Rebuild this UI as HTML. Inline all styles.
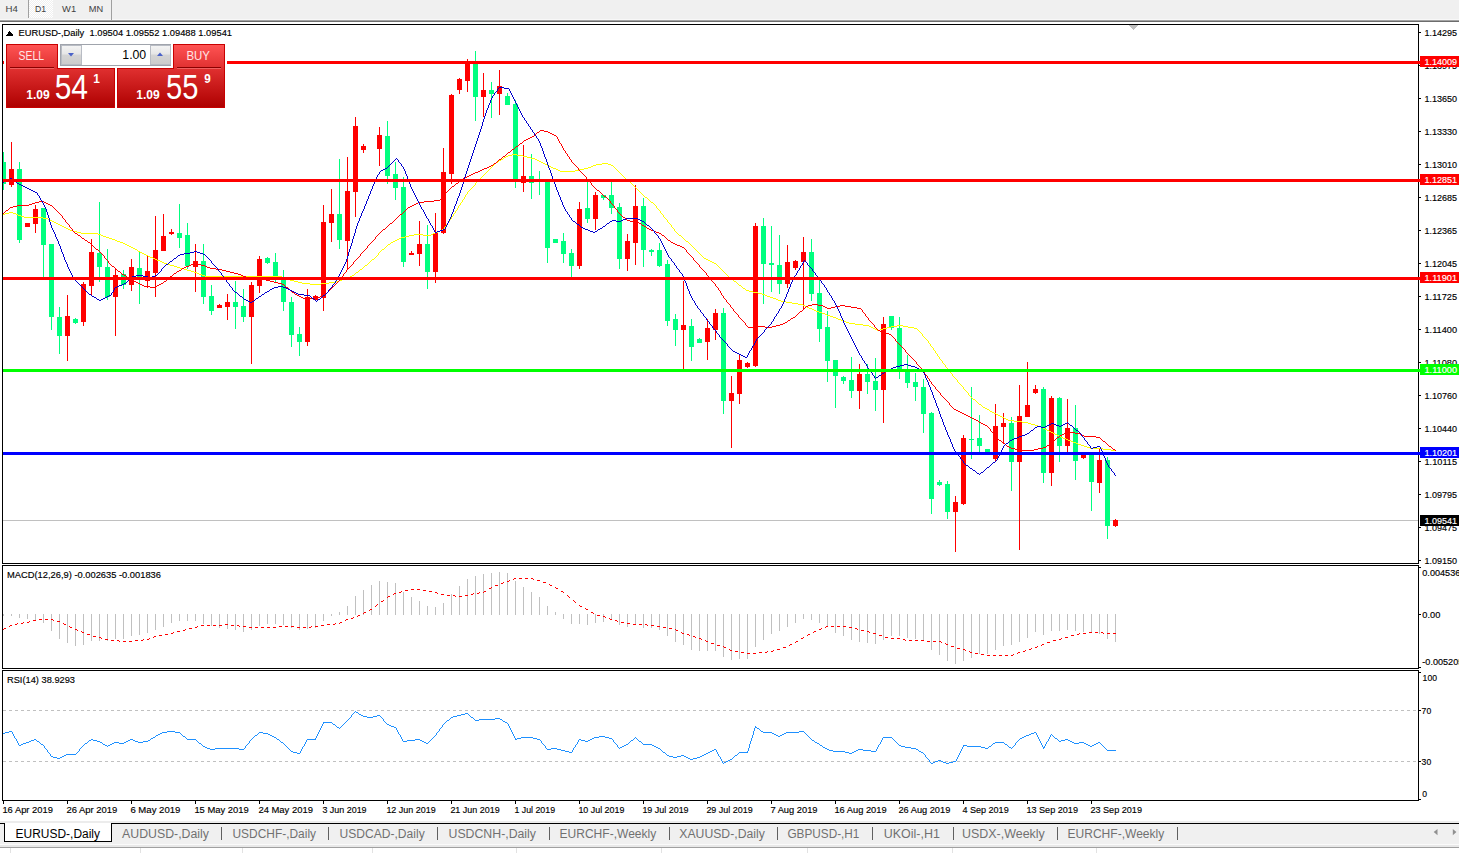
<!DOCTYPE html>
<html><head><meta charset="utf-8"><title>EURUSD-,Daily</title>
<style>
html,body{margin:0;padding:0;}
body{width:1459px;height:853px;overflow:hidden;background:#fff;position:relative;font-family:"Liberation Sans", sans-serif;}
.abs{position:absolute;}
#toolbar{left:0;top:0;width:1459px;height:19px;background:#f0f0f0;border-bottom:1px solid #f8f8f8;}
#tbl1{left:0;top:20px;width:1459px;height:1px;background:#a4a4a4;}
#tbl2{left:0;top:21px;width:1459px;height:1px;background:#6c6c6c;}
.tf{position:absolute;top:4px;font-size:10px;color:#404040;line-height:10px;}
#d1{left:29px;top:0;width:24px;height:18px;background:#f8f8f8;}
.vsep{position:absolute;width:1px;background:#a0a0a0;}
#tabbar{left:0;top:824px;width:1459px;height:20px;background:#f0f0f0;}
#tabtop{left:0;top:823px;width:1459px;height:1px;background:#000;}
#tabtop0{left:0;top:821px;width:1459px;height:2px;background:#ececec;}
#tabact{left:4px;top:823px;width:106px;height:18px;background:#fff;border:1px solid #000;border-top:none;}
#tb0{left:0;top:844px;width:1459px;height:1px;background:#fafafa;}
#tb1{left:0;top:845px;width:1459px;height:2px;background:#e8e8e8;}
#tb2{left:0;top:847px;width:1459px;height:1px;background:#a0a0a0;}
/* trade panel */
.btn{position:absolute;color:#fff;}
</style></head><body>
<div id="toolbar" class="abs"></div><div id="tbl1" class="abs"></div><div id="tbl2" class="abs"></div>
<div id="d1" class="abs"></div>
<div class="vsep" style="left:28px;top:0;height:18px"></div>
<div class="vsep" style="left:111px;top:0;height:20px"></div>
<svg width="1459" height="853" viewBox="0 0 1459 853" style="position:absolute;left:0;top:0" shape-rendering="crispEdges" font-family='"Liberation Sans", sans-serif'><rect x="2" y="24" width="1417" height="1" fill="#000"/>
<rect x="2" y="24" width="1" height="777" fill="#000"/>
<rect x="1418" y="24" width="1" height="540" fill="#000"/>
<rect x="1418" y="565" width="1" height="104" fill="#000"/>
<rect x="1418" y="670" width="1" height="131" fill="#000"/>
<rect x="2" y="563" width="1417" height="1" fill="#000"/>
<rect x="2" y="564" width="1" height="1" fill="#fff"/>
<rect x="2" y="565" width="1417" height="1" fill="#000"/>
<rect x="2" y="668" width="1417" height="1" fill="#000"/>
<rect x="2" y="669" width="1" height="1" fill="#fff"/>
<rect x="2" y="670" width="1417" height="1" fill="#000"/>
<rect x="2" y="800" width="1417" height="1" fill="#000"/>
<rect x="3" y="520" width="1415" height="1" fill="#C0C0C0"/>
<rect x="3" y="152" width="1" height="38" fill="#00FF7F"/>
<rect x="11" y="142" width="1" height="45" fill="#FF0000"/>
<rect x="19" y="162" width="1" height="81" fill="#00FF7F"/>
<rect x="27" y="223" width="1" height="4" fill="#FF0000"/>
<rect x="35" y="205" width="1" height="28" fill="#FF0000"/>
<rect x="43" y="208" width="1" height="71" fill="#00FF7F"/>
<rect x="51" y="244" width="1" height="86" fill="#00FF7F"/>
<rect x="59" y="307" width="1" height="47" fill="#00FF7F"/>
<rect x="67" y="295" width="1" height="66" fill="#FF0000"/>
<rect x="75" y="318" width="1" height="6" fill="#00FF7F"/>
<rect x="83" y="282" width="1" height="44" fill="#FF0000"/>
<rect x="91" y="239" width="1" height="56" fill="#FF0000"/>
<rect x="99" y="202" width="1" height="80" fill="#00FF7F"/>
<rect x="107" y="249" width="1" height="51" fill="#00FF7F"/>
<rect x="115" y="269" width="1" height="67" fill="#FF0000"/>
<rect x="123" y="270" width="1" height="19" fill="#00FF7F"/>
<rect x="131" y="259" width="1" height="32" fill="#FF0000"/>
<rect x="139" y="251" width="1" height="53" fill="#00FF7F"/>
<rect x="147" y="256" width="1" height="32" fill="#FF0000"/>
<rect x="155" y="216" width="1" height="81" fill="#FF0000"/>
<rect x="163" y="214" width="1" height="37" fill="#FF0000"/>
<rect x="171" y="229" width="1" height="6" fill="#FF0000"/>
<rect x="179" y="204" width="1" height="44" fill="#00FF7F"/>
<rect x="187" y="223" width="1" height="46" fill="#00FF7F"/>
<rect x="195" y="244" width="1" height="48" fill="#FF0000"/>
<rect x="203" y="244" width="1" height="60" fill="#00FF7F"/>
<rect x="211" y="285" width="1" height="30" fill="#00FF7F"/>
<rect x="219" y="304" width="1" height="4" fill="#FF0000"/>
<rect x="227" y="294" width="1" height="26" fill="#FF0000"/>
<rect x="235" y="281" width="1" height="48" fill="#00FF7F"/>
<rect x="243" y="289" width="1" height="33" fill="#00FF7F"/>
<rect x="251" y="282" width="1" height="82" fill="#FF0000"/>
<rect x="259" y="256" width="1" height="37" fill="#FF0000"/>
<rect x="267" y="257" width="1" height="7" fill="#00FF7F"/>
<rect x="275" y="253" width="1" height="30" fill="#00FF7F"/>
<rect x="283" y="270" width="1" height="41" fill="#00FF7F"/>
<rect x="291" y="297" width="1" height="50" fill="#00FF7F"/>
<rect x="299" y="327" width="1" height="29" fill="#00FF7F"/>
<rect x="307" y="289" width="1" height="57" fill="#FF0000"/>
<rect x="315" y="295" width="1" height="6" fill="#FF0000"/>
<rect x="323" y="205" width="1" height="106" fill="#FF0000"/>
<rect x="331" y="189" width="1" height="53" fill="#FF0000"/>
<rect x="339" y="159" width="1" height="90" fill="#00FF7F"/>
<rect x="347" y="157" width="1" height="112" fill="#FF0000"/>
<rect x="355" y="117" width="1" height="100" fill="#FF0000"/>
<rect x="363" y="144" width="1" height="9" fill="#FF0000"/>
<rect x="379" y="127" width="1" height="39" fill="#FF0000"/>
<rect x="387" y="121" width="1" height="63" fill="#00FF7F"/>
<rect x="395" y="162" width="1" height="38" fill="#00FF7F"/>
<rect x="403" y="177" width="1" height="90" fill="#00FF7F"/>
<rect x="411" y="251" width="1" height="4" fill="#FF0000"/>
<rect x="419" y="221" width="1" height="45" fill="#FF0000"/>
<rect x="427" y="225" width="1" height="64" fill="#00FF7F"/>
<rect x="435" y="213" width="1" height="70" fill="#FF0000"/>
<rect x="443" y="148" width="1" height="86" fill="#FF0000"/>
<rect x="451" y="94" width="1" height="90" fill="#FF0000"/>
<rect x="459" y="78" width="1" height="16" fill="#FF0000"/>
<rect x="467" y="59" width="1" height="33" fill="#FF0000"/>
<rect x="475" y="51" width="1" height="70" fill="#00FF7F"/>
<rect x="483" y="73" width="1" height="44" fill="#FF0000"/>
<rect x="491" y="82" width="1" height="36" fill="#00FF7F"/>
<rect x="499" y="70" width="1" height="45" fill="#FF0000"/>
<rect x="507" y="93" width="1" height="12" fill="#00FF7F"/>
<rect x="515" y="100" width="1" height="88" fill="#00FF7F"/>
<rect x="523" y="145" width="1" height="47" fill="#FF0000"/>
<rect x="531" y="154" width="1" height="45" fill="#00FF7F"/>
<rect x="539" y="171" width="1" height="24" fill="#00FF7F"/>
<rect x="547" y="182" width="1" height="81" fill="#00FF7F"/>
<rect x="555" y="239" width="1" height="4" fill="#00FF7F"/>
<rect x="563" y="233" width="1" height="30" fill="#00FF7F"/>
<rect x="571" y="249" width="1" height="28" fill="#00FF7F"/>
<rect x="579" y="202" width="1" height="67" fill="#FF0000"/>
<rect x="587" y="182" width="1" height="41" fill="#00FF7F"/>
<rect x="595" y="192" width="1" height="38" fill="#FF0000"/>
<rect x="603" y="195" width="1" height="5" fill="#00FF7F"/>
<rect x="611" y="182" width="1" height="32" fill="#00FF7F"/>
<rect x="619" y="203" width="1" height="66" fill="#00FF7F"/>
<rect x="627" y="234" width="1" height="37" fill="#FF0000"/>
<rect x="635" y="185" width="1" height="80" fill="#FF0000"/>
<rect x="643" y="198" width="1" height="69" fill="#00FF7F"/>
<rect x="651" y="249" width="1" height="7" fill="#00FF7F"/>
<rect x="659" y="243" width="1" height="24" fill="#00FF7F"/>
<rect x="667" y="260" width="1" height="66" fill="#00FF7F"/>
<rect x="675" y="314" width="1" height="32" fill="#00FF7F"/>
<rect x="683" y="281" width="1" height="89" fill="#FF0000"/>
<rect x="691" y="319" width="1" height="42" fill="#00FF7F"/>
<rect x="699" y="338" width="1" height="5" fill="#00FF7F"/>
<rect x="707" y="319" width="1" height="41" fill="#FF0000"/>
<rect x="715" y="309" width="1" height="31" fill="#FF0000"/>
<rect x="723" y="308" width="1" height="106" fill="#00FF7F"/>
<rect x="731" y="376" width="1" height="72" fill="#FF0000"/>
<rect x="739" y="355" width="1" height="49" fill="#FF0000"/>
<rect x="747" y="362" width="1" height="6" fill="#FF0000"/>
<rect x="755" y="223" width="1" height="144" fill="#FF0000"/>
<rect x="763" y="218" width="1" height="86" fill="#00FF7F"/>
<rect x="771" y="226" width="1" height="66" fill="#00FF7F"/>
<rect x="779" y="235" width="1" height="59" fill="#00FF7F"/>
<rect x="787" y="245" width="1" height="43" fill="#FF0000"/>
<rect x="795" y="260" width="1" height="10" fill="#FF0000"/>
<rect x="803" y="237" width="1" height="72" fill="#FF0000"/>
<rect x="811" y="239" width="1" height="62" fill="#00FF7F"/>
<rect x="819" y="280" width="1" height="62" fill="#00FF7F"/>
<rect x="827" y="311" width="1" height="71" fill="#00FF7F"/>
<rect x="835" y="360" width="1" height="48" fill="#00FF7F"/>
<rect x="843" y="376" width="1" height="8" fill="#00FF7F"/>
<rect x="851" y="357" width="1" height="41" fill="#00FF7F"/>
<rect x="859" y="364" width="1" height="45" fill="#FF0000"/>
<rect x="867" y="364" width="1" height="30" fill="#00FF7F"/>
<rect x="875" y="358" width="1" height="53" fill="#00FF7F"/>
<rect x="883" y="317" width="1" height="106" fill="#FF0000"/>
<rect x="891" y="316" width="1" height="14" fill="#00FF7F"/>
<rect x="899" y="317" width="1" height="62" fill="#00FF7F"/>
<rect x="907" y="355" width="1" height="33" fill="#00FF7F"/>
<rect x="915" y="373" width="1" height="28" fill="#00FF7F"/>
<rect x="923" y="379" width="1" height="54" fill="#00FF7F"/>
<rect x="931" y="412" width="1" height="102" fill="#00FF7F"/>
<rect x="939" y="480" width="1" height="6" fill="#00FF7F"/>
<rect x="947" y="481" width="1" height="38" fill="#00FF7F"/>
<rect x="955" y="496" width="1" height="56" fill="#FF0000"/>
<rect x="963" y="435" width="1" height="70" fill="#FF0000"/>
<rect x="971" y="387" width="1" height="72" fill="#00FF7F"/>
<rect x="979" y="415" width="1" height="38" fill="#00FF7F"/>
<rect x="987" y="449" width="1" height="4" fill="#00FF7F"/>
<rect x="995" y="404" width="1" height="57" fill="#FF0000"/>
<rect x="1003" y="413" width="1" height="30" fill="#FF0000"/>
<rect x="1011" y="417" width="1" height="74" fill="#00FF7F"/>
<rect x="1019" y="385" width="1" height="165" fill="#FF0000"/>
<rect x="1027" y="362" width="1" height="55" fill="#FF0000"/>
<rect x="1035" y="385" width="1" height="9" fill="#FF0000"/>
<rect x="1043" y="387" width="1" height="96" fill="#00FF7F"/>
<rect x="1051" y="396" width="1" height="90" fill="#FF0000"/>
<rect x="1059" y="397" width="1" height="65" fill="#00FF7F"/>
<rect x="1067" y="399" width="1" height="53" fill="#FF0000"/>
<rect x="1075" y="405" width="1" height="75" fill="#00FF7F"/>
<rect x="1083" y="455" width="1" height="4" fill="#FF0000"/>
<rect x="1091" y="455" width="1" height="56" fill="#00FF7F"/>
<rect x="1099" y="448" width="1" height="45" fill="#FF0000"/>
<rect x="1107" y="457" width="1" height="82" fill="#00FF7F"/>
<rect x="1115" y="519" width="1" height="8" fill="#FF0000"/>
<rect x="3" y="162" width="3" height="22" fill="#00FF7F"/>
<rect x="9" y="169" width="5" height="16" fill="#FF0000"/>
<rect x="17" y="169" width="5" height="71" fill="#00FF7F"/>
<rect x="25" y="223" width="5" height="4" fill="#FF0000"/>
<rect x="33" y="209" width="5" height="15" fill="#FF0000"/>
<rect x="41" y="208" width="5" height="37" fill="#00FF7F"/>
<rect x="49" y="244" width="5" height="73" fill="#00FF7F"/>
<rect x="57" y="317" width="5" height="19" fill="#00FF7F"/>
<rect x="65" y="316" width="5" height="20" fill="#FF0000"/>
<rect x="73" y="319" width="5" height="4" fill="#00FF7F"/>
<rect x="81" y="284" width="5" height="38" fill="#FF0000"/>
<rect x="89" y="252" width="5" height="34" fill="#FF0000"/>
<rect x="97" y="253" width="5" height="14" fill="#00FF7F"/>
<rect x="105" y="267" width="5" height="30" fill="#00FF7F"/>
<rect x="113" y="275" width="5" height="22" fill="#FF0000"/>
<rect x="121" y="274" width="5" height="11" fill="#00FF7F"/>
<rect x="129" y="267" width="5" height="18" fill="#FF0000"/>
<rect x="137" y="268" width="5" height="12" fill="#00FF7F"/>
<rect x="145" y="271" width="5" height="10" fill="#FF0000"/>
<rect x="153" y="250" width="5" height="23" fill="#FF0000"/>
<rect x="161" y="236" width="5" height="15" fill="#FF0000"/>
<rect x="169" y="232" width="5" height="2" fill="#FF0000"/>
<rect x="177" y="233" width="5" height="5" fill="#00FF7F"/>
<rect x="185" y="235" width="5" height="31" fill="#00FF7F"/>
<rect x="193" y="261" width="5" height="6" fill="#FF0000"/>
<rect x="201" y="261" width="5" height="36" fill="#00FF7F"/>
<rect x="209" y="296" width="5" height="15" fill="#00FF7F"/>
<rect x="217" y="305" width="5" height="3" fill="#FF0000"/>
<rect x="225" y="302" width="5" height="5" fill="#FF0000"/>
<rect x="233" y="302" width="5" height="5" fill="#00FF7F"/>
<rect x="241" y="306" width="5" height="11" fill="#00FF7F"/>
<rect x="249" y="285" width="5" height="32" fill="#FF0000"/>
<rect x="257" y="259" width="5" height="27" fill="#FF0000"/>
<rect x="265" y="258" width="5" height="5" fill="#00FF7F"/>
<rect x="273" y="262" width="5" height="18" fill="#00FF7F"/>
<rect x="281" y="277" width="5" height="25" fill="#00FF7F"/>
<rect x="289" y="302" width="5" height="33" fill="#00FF7F"/>
<rect x="297" y="334" width="5" height="8" fill="#00FF7F"/>
<rect x="305" y="297" width="5" height="45" fill="#FF0000"/>
<rect x="313" y="296" width="5" height="4" fill="#FF0000"/>
<rect x="321" y="222" width="5" height="76" fill="#FF0000"/>
<rect x="329" y="214" width="5" height="9" fill="#FF0000"/>
<rect x="337" y="214" width="5" height="26" fill="#00FF7F"/>
<rect x="345" y="191" width="5" height="50" fill="#FF0000"/>
<rect x="353" y="126" width="5" height="66" fill="#FF0000"/>
<rect x="361" y="146" width="5" height="4" fill="#FF0000"/>
<rect x="377" y="135" width="5" height="14" fill="#FF0000"/>
<rect x="385" y="136" width="5" height="40" fill="#00FF7F"/>
<rect x="393" y="174" width="5" height="14" fill="#00FF7F"/>
<rect x="401" y="187" width="5" height="75" fill="#00FF7F"/>
<rect x="409" y="253" width="5" height="2" fill="#FF0000"/>
<rect x="417" y="244" width="5" height="10" fill="#FF0000"/>
<rect x="425" y="244" width="5" height="28" fill="#00FF7F"/>
<rect x="433" y="233" width="5" height="39" fill="#FF0000"/>
<rect x="441" y="172" width="5" height="61" fill="#FF0000"/>
<rect x="449" y="95" width="5" height="79" fill="#FF0000"/>
<rect x="457" y="79" width="5" height="11" fill="#FF0000"/>
<rect x="465" y="62" width="5" height="19" fill="#FF0000"/>
<rect x="473" y="64" width="5" height="33" fill="#00FF7F"/>
<rect x="481" y="90" width="5" height="7" fill="#FF0000"/>
<rect x="489" y="90" width="5" height="4" fill="#00FF7F"/>
<rect x="497" y="86" width="5" height="8" fill="#FF0000"/>
<rect x="505" y="96" width="5" height="9" fill="#00FF7F"/>
<rect x="513" y="104" width="5" height="77" fill="#00FF7F"/>
<rect x="521" y="176" width="5" height="7" fill="#FF0000"/>
<rect x="529" y="176" width="5" height="7" fill="#00FF7F"/>
<rect x="537" y="180" width="5" height="2" fill="#00FF7F"/>
<rect x="545" y="182" width="5" height="66" fill="#00FF7F"/>
<rect x="553" y="239" width="5" height="4" fill="#00FF7F"/>
<rect x="561" y="241" width="5" height="13" fill="#00FF7F"/>
<rect x="569" y="253" width="5" height="13" fill="#00FF7F"/>
<rect x="577" y="209" width="5" height="57" fill="#FF0000"/>
<rect x="585" y="208" width="5" height="11" fill="#00FF7F"/>
<rect x="593" y="195" width="5" height="24" fill="#FF0000"/>
<rect x="601" y="195" width="5" height="3" fill="#00FF7F"/>
<rect x="609" y="195" width="5" height="13" fill="#00FF7F"/>
<rect x="617" y="207" width="5" height="52" fill="#00FF7F"/>
<rect x="625" y="241" width="5" height="18" fill="#FF0000"/>
<rect x="633" y="206" width="5" height="37" fill="#FF0000"/>
<rect x="641" y="206" width="5" height="44" fill="#00FF7F"/>
<rect x="649" y="250" width="5" height="2" fill="#00FF7F"/>
<rect x="657" y="250" width="5" height="16" fill="#00FF7F"/>
<rect x="665" y="264" width="5" height="57" fill="#00FF7F"/>
<rect x="673" y="319" width="5" height="11" fill="#00FF7F"/>
<rect x="681" y="325" width="5" height="5" fill="#FF0000"/>
<rect x="689" y="326" width="5" height="21" fill="#00FF7F"/>
<rect x="697" y="339" width="5" height="4" fill="#00FF7F"/>
<rect x="705" y="328" width="5" height="14" fill="#FF0000"/>
<rect x="713" y="313" width="5" height="17" fill="#FF0000"/>
<rect x="721" y="313" width="5" height="88" fill="#00FF7F"/>
<rect x="729" y="393" width="5" height="8" fill="#FF0000"/>
<rect x="737" y="360" width="5" height="34" fill="#FF0000"/>
<rect x="745" y="363" width="5" height="4" fill="#FF0000"/>
<rect x="753" y="226" width="5" height="140" fill="#FF0000"/>
<rect x="761" y="226" width="5" height="38" fill="#00FF7F"/>
<rect x="769" y="263" width="5" height="2" fill="#00FF7F"/>
<rect x="777" y="265" width="5" height="19" fill="#00FF7F"/>
<rect x="785" y="262" width="5" height="22" fill="#FF0000"/>
<rect x="793" y="261" width="5" height="7" fill="#FF0000"/>
<rect x="801" y="252" width="5" height="10" fill="#FF0000"/>
<rect x="809" y="252" width="5" height="42" fill="#00FF7F"/>
<rect x="817" y="293" width="5" height="36" fill="#00FF7F"/>
<rect x="825" y="327" width="5" height="34" fill="#00FF7F"/>
<rect x="833" y="360" width="5" height="16" fill="#00FF7F"/>
<rect x="841" y="377" width="5" height="4" fill="#00FF7F"/>
<rect x="849" y="380" width="5" height="11" fill="#00FF7F"/>
<rect x="857" y="374" width="5" height="17" fill="#FF0000"/>
<rect x="865" y="374" width="5" height="8" fill="#00FF7F"/>
<rect x="873" y="381" width="5" height="9" fill="#00FF7F"/>
<rect x="881" y="324" width="5" height="66" fill="#FF0000"/>
<rect x="889" y="316" width="5" height="12" fill="#00FF7F"/>
<rect x="897" y="328" width="5" height="43" fill="#00FF7F"/>
<rect x="905" y="371" width="5" height="12" fill="#00FF7F"/>
<rect x="913" y="382" width="5" height="5" fill="#00FF7F"/>
<rect x="921" y="387" width="5" height="27" fill="#00FF7F"/>
<rect x="929" y="413" width="5" height="86" fill="#00FF7F"/>
<rect x="937" y="482" width="5" height="3" fill="#00FF7F"/>
<rect x="945" y="484" width="5" height="28" fill="#00FF7F"/>
<rect x="953" y="502" width="5" height="10" fill="#FF0000"/>
<rect x="961" y="438" width="5" height="66" fill="#FF0000"/>
<rect x="969" y="439" width="5" height="1" fill="#00FF7F"/>
<rect x="977" y="438" width="5" height="8" fill="#00FF7F"/>
<rect x="985" y="449" width="5" height="4" fill="#00FF7F"/>
<rect x="993" y="426" width="5" height="33" fill="#FF0000"/>
<rect x="1001" y="423" width="5" height="4" fill="#FF0000"/>
<rect x="1009" y="423" width="5" height="39" fill="#00FF7F"/>
<rect x="1017" y="416" width="5" height="46" fill="#FF0000"/>
<rect x="1025" y="405" width="5" height="12" fill="#FF0000"/>
<rect x="1033" y="389" width="5" height="4" fill="#FF0000"/>
<rect x="1041" y="389" width="5" height="84" fill="#00FF7F"/>
<rect x="1049" y="398" width="5" height="75" fill="#FF0000"/>
<rect x="1057" y="398" width="5" height="48" fill="#00FF7F"/>
<rect x="1065" y="428" width="5" height="18" fill="#FF0000"/>
<rect x="1073" y="428" width="5" height="33" fill="#00FF7F"/>
<rect x="1081" y="455" width="5" height="3" fill="#FF0000"/>
<rect x="1089" y="455" width="5" height="27" fill="#00FF7F"/>
<rect x="1097" y="460" width="5" height="23" fill="#FF0000"/>
<rect x="1105" y="460" width="5" height="66" fill="#00FF7F"/>
<rect x="1113" y="520" width="5" height="6" fill="#FF0000"/>
<path d="M512 154h5v1h-5zM508 155h4v1h-4zM517 155h6v1h-6zM506 156h2v1h-2zM523 156h4v1h-4zM504 157h2v1h-2zM527 157h4v1h-4zM503 158h1v1h-1zM531 158h4v1h-4zM501 159h2v1h-2zM535 159h2v1h-2zM499 160h2v1h-2zM537 160h2v1h-2zM498 161h1v1h-1zM539 161h2v1h-2zM496 162h2v1h-2zM541 162h2v1h-2zM495 163h1v1h-1zM543 163h2v1h-2zM602 163h6v1h-6zM494 164h1v1h-1zM545 164h2v1h-2zM596 164h6v1h-6zM608 164h3v1h-3zM493 165h1v1h-1zM547 165h2v1h-2zM593 165h3v1h-3zM611 165h2v1h-2zM492 166h1v1h-1zM549 166h2v1h-2zM591 166h2v1h-2zM613 166h1v1h-1zM491 167h1v1h-1zM551 167h2v1h-2zM588 167h3v1h-3zM614 167h1v1h-1zM490 168h1v1h-1zM553 168h3v1h-3zM584 168h4v1h-4zM615 168h1v1h-1zM489 169h1v1h-1zM556 169h2v1h-2zM579 169h5v1h-5zM616 169h1v1h-1zM488 170h1v1h-1zM558 170h2v1h-2zM575 170h4v1h-4zM617 170h1v1h-1zM487 171h1v1h-1zM560 171h15v1h-15zM618 171h1v1h-1zM486 172h1v1h-1zM619 172h1v1h-1zM485 173h1v1h-1zM620 173h1v1h-1zM484 174h1v1h-1zM621 174h1v1h-1zM483 175h1v1h-1zM622 175h1v1h-1zM482 176h1v1h-1zM623 176h1v1h-1zM481 177h1v1h-1zM624 177h1v1h-1zM480 178h1v1h-1zM625 178h1v1h-1zM479 179h1v1h-1zM626 179h2v1h-2zM478 180h1v1h-1zM628 180h1v1h-1zM477 181h1v1h-1zM629 181h1v1h-1zM476 182h1v1h-1zM630 182h1v1h-1zM475 183h1v2h-1zM631 183h1v1h-1zM632 184h1v1h-1zM474 185h1v1h-1zM633 185h1v1h-1zM473 186h1v1h-1zM634 186h1v1h-1zM472 187h1v1h-1zM635 187h1v1h-1zM471 188h1v1h-1zM636 188h1v1h-1zM470 189h1v1h-1zM637 189h1v1h-1zM469 190h1v1h-1zM638 190h1v1h-1zM468 191h1v1h-1zM639 191h1v1h-1zM467 192h1v2h-1zM640 192h1v1h-1zM641 193h1v1h-1zM466 194h1v1h-1zM642 194h1v1h-1zM465 195h1v2h-1zM643 195h1v1h-1zM644 196h1v1h-1zM464 197h1v2h-1zM645 197h2v1h-2zM647 198h1v1h-1zM463 199h1v1h-1zM648 199h1v1h-1zM462 200h1v2h-1zM649 200h1v1h-1zM650 201h1v1h-1zM461 202h1v1h-1zM651 202h2v1h-2zM460 203h1v2h-1zM653 203h1v1h-1zM654 204h1v1h-1zM459 205h1v1h-1zM655 205h1v1h-1zM458 206h1v2h-1zM656 206h1v2h-1zM457 208h1v2h-1zM657 208h1v1h-1zM658 209h1v1h-1zM456 210h1v1h-1zM659 210h1v1h-1zM455 211h1v2h-1zM660 211h1v2h-1zM9 212h4v1h-4zM5 213h4v1h-4zM13 213h3v1h-3zM454 213h1v1h-1zM661 213h1v1h-1zM3 214h2v1h-2zM16 214h2v1h-2zM453 214h1v2h-1zM662 214h1v1h-1zM18 215h3v1h-3zM663 215h1v2h-1zM21 216h3v1h-3zM452 216h1v1h-1zM24 217h19v1h-19zM451 217h1v2h-1zM664 217h1v1h-1zM43 218h5v1h-5zM665 218h1v1h-1zM48 219h2v1h-2zM450 219h1v1h-1zM666 219h1v1h-1zM50 220h2v1h-2zM449 220h1v2h-1zM667 220h1v2h-1zM52 221h2v1h-2zM54 222h2v1h-2zM448 222h1v1h-1zM668 222h1v1h-1zM56 223h2v1h-2zM447 223h1v1h-1zM669 223h1v1h-1zM58 224h2v1h-2zM446 224h1v2h-1zM670 224h1v1h-1zM60 225h2v1h-2zM671 225h1v2h-1zM62 226h2v1h-2zM445 226h1v1h-1zM64 227h2v1h-2zM444 227h1v2h-1zM672 227h1v1h-1zM66 228h2v1h-2zM673 228h1v1h-1zM68 229h2v1h-2zM442 229h2v1h-2zM674 229h1v2h-1zM70 230h3v1h-3zM440 230h2v1h-2zM73 231h4v1h-4zM438 231h2v1h-2zM675 231h1v1h-1zM77 232h4v1h-4zM435 232h3v1h-3zM676 232h1v1h-1zM81 233h17v1h-17zM433 233h2v1h-2zM677 233h1v1h-1zM98 234h3v1h-3zM414 234h9v1h-9zM431 234h2v1h-2zM678 234h1v1h-1zM101 235h2v1h-2zM409 235h5v1h-5zM423 235h8v1h-8zM679 235h2v1h-2zM103 236h3v1h-3zM405 236h4v1h-4zM681 236h1v1h-1zM106 237h3v1h-3zM401 237h4v1h-4zM682 237h1v1h-1zM109 238h3v1h-3zM399 238h2v1h-2zM683 238h1v1h-1zM112 239h3v1h-3zM397 239h2v1h-2zM684 239h1v1h-1zM115 240h2v1h-2zM395 240h2v1h-2zM685 240h1v1h-1zM117 241h3v1h-3zM393 241h2v1h-2zM686 241h2v1h-2zM120 242h3v1h-3zM391 242h2v1h-2zM688 242h1v1h-1zM123 243h2v1h-2zM390 243h1v1h-1zM689 243h1v1h-1zM125 244h2v1h-2zM388 244h2v1h-2zM690 244h1v1h-1zM127 245h2v1h-2zM387 245h1v1h-1zM691 245h1v1h-1zM129 246h2v1h-2zM386 246h1v1h-1zM692 246h1v1h-1zM131 247h2v1h-2zM385 247h1v1h-1zM693 247h1v1h-1zM133 248h2v1h-2zM384 248h1v1h-1zM694 248h1v1h-1zM135 249h2v1h-2zM382 249h2v1h-2zM695 249h1v1h-1zM137 250h1v1h-1zM381 250h1v1h-1zM696 250h1v1h-1zM138 251h2v1h-2zM380 251h1v1h-1zM697 251h1v1h-1zM140 252h2v1h-2zM379 252h1v1h-1zM698 252h1v1h-1zM142 253h2v1h-2zM378 253h1v2h-1zM699 253h1v1h-1zM144 254h2v1h-2zM700 254h1v1h-1zM146 255h2v1h-2zM377 255h1v1h-1zM701 255h1v1h-1zM148 256h2v1h-2zM376 256h1v1h-1zM702 256h1v1h-1zM150 257h3v1h-3zM375 257h1v1h-1zM703 257h1v1h-1zM153 258h2v1h-2zM374 258h1v1h-1zM704 258h2v1h-2zM155 259h2v1h-2zM372 259h2v1h-2zM706 259h2v1h-2zM157 260h3v1h-3zM371 260h1v1h-1zM708 260h2v1h-2zM160 261h2v1h-2zM370 261h1v1h-1zM710 261h2v1h-2zM162 262h2v1h-2zM369 262h1v1h-1zM712 262h2v1h-2zM164 263h3v1h-3zM368 263h1v1h-1zM714 263h2v1h-2zM167 264h3v1h-3zM367 264h1v1h-1zM716 264h1v1h-1zM170 265h4v1h-4zM365 265h2v1h-2zM717 265h1v1h-1zM174 266h3v1h-3zM364 266h1v1h-1zM718 266h1v1h-1zM177 267h3v1h-3zM363 267h1v1h-1zM719 267h1v1h-1zM180 268h4v1h-4zM362 268h1v1h-1zM720 268h1v1h-1zM184 269h3v1h-3zM360 269h2v1h-2zM721 269h1v1h-1zM187 270h4v1h-4zM359 270h1v1h-1zM722 270h1v1h-1zM191 271h3v1h-3zM358 271h1v1h-1zM723 271h1v1h-1zM194 272h3v1h-3zM356 272h2v1h-2zM724 272h1v1h-1zM197 273h2v1h-2zM355 273h1v1h-1zM725 273h1v1h-1zM199 274h3v1h-3zM354 274h1v1h-1zM726 274h1v1h-1zM202 275h3v1h-3zM352 275h2v1h-2zM727 275h1v1h-1zM205 276h77v1h-77zM350 276h2v1h-2zM728 276h1v1h-1zM282 277h3v1h-3zM347 277h3v1h-3zM729 277h1v1h-1zM285 278h2v1h-2zM344 278h3v1h-3zM730 278h2v1h-2zM287 279h3v1h-3zM342 279h2v1h-2zM732 279h1v1h-1zM290 280h4v1h-4zM339 280h3v1h-3zM733 280h1v1h-1zM294 281h4v1h-4zM335 281h4v1h-4zM734 281h2v1h-2zM298 282h4v1h-4zM329 282h6v1h-6zM736 282h1v1h-1zM302 283h8v1h-8zM321 283h8v1h-8zM737 283h1v1h-1zM310 284h11v1h-11zM738 284h1v1h-1zM739 285h2v1h-2zM741 286h1v1h-1zM742 287h1v1h-1zM743 288h2v1h-2zM745 289h1v1h-1zM746 290h3v1h-3zM749 291h4v1h-4zM753 292h5v1h-5zM758 293h4v1h-4zM762 294h3v1h-3zM765 295h2v1h-2zM767 296h3v1h-3zM770 297h3v1h-3zM773 298h3v1h-3zM776 299h2v1h-2zM778 300h3v1h-3zM781 301h5v1h-5zM786 302h6v1h-6zM792 303h6v1h-6zM798 304h5v1h-5zM803 305h2v1h-2zM805 306h2v1h-2zM807 307h2v1h-2zM809 308h3v1h-3zM812 309h2v1h-2zM814 310h2v1h-2zM816 311h3v1h-3zM819 312h3v1h-3zM822 313h3v1h-3zM825 314h2v1h-2zM827 315h3v1h-3zM830 316h3v1h-3zM833 317h3v1h-3zM836 318h2v1h-2zM838 319h3v1h-3zM841 320h3v1h-3zM844 321h2v1h-2zM846 322h3v1h-3zM849 323h6v1h-6zM855 324h8v1h-8zM863 325h6v1h-6zM897 325h6v1h-6zM869 326h2v1h-2zM891 326h6v1h-6zM903 326h5v1h-5zM871 327h2v1h-2zM887 327h4v1h-4zM908 327h6v1h-6zM873 328h2v1h-2zM883 328h4v1h-4zM914 328h3v1h-3zM875 329h2v1h-2zM880 329h3v1h-3zM917 329h1v1h-1zM877 330h3v1h-3zM918 330h1v1h-1zM919 331h1v1h-1zM920 332h1v1h-1zM921 333h1v1h-1zM922 334h1v2h-1zM923 336h1v1h-1zM924 337h1v1h-1zM925 338h1v1h-1zM926 339h1v1h-1zM927 340h1v1h-1zM928 341h1v2h-1zM929 343h1v1h-1zM930 344h1v2h-1zM931 346h1v1h-1zM932 347h1v1h-1zM933 348h1v2h-1zM934 350h1v1h-1zM935 351h1v2h-1zM936 353h1v1h-1zM937 354h1v2h-1zM938 356h1v1h-1zM939 357h1v2h-1zM940 359h1v1h-1zM941 360h1v1h-1zM942 361h1v2h-1zM943 363h1v1h-1zM944 364h1v1h-1zM945 365h1v2h-1zM946 367h1v1h-1zM947 368h1v1h-1zM948 369h1v2h-1zM949 371h1v1h-1zM950 372h1v1h-1zM951 373h1v1h-1zM952 374h1v2h-1zM953 376h1v1h-1zM954 377h1v1h-1zM955 378h1v1h-1zM956 379h1v1h-1zM957 380h1v2h-1zM958 382h1v1h-1zM959 383h1v1h-1zM960 384h1v1h-1zM961 385h1v1h-1zM962 386h1v1h-1zM963 387h1v2h-1zM964 389h1v1h-1zM965 390h1v1h-1zM966 391h1v1h-1zM967 392h1v1h-1zM968 393h1v2h-1zM969 395h1v1h-1zM970 396h1v1h-1zM971 397h1v1h-1zM972 398h1v1h-1zM973 399h2v1h-2zM975 400h1v1h-1zM976 401h1v1h-1zM977 402h1v1h-1zM978 403h1v1h-1zM979 404h2v1h-2zM981 405h1v1h-1zM982 406h1v1h-1zM983 407h2v1h-2zM985 408h2v1h-2zM987 409h2v1h-2zM989 410h1v1h-1zM990 411h2v1h-2zM992 412h2v1h-2zM994 413h2v1h-2zM996 414h2v1h-2zM998 415h2v1h-2zM1000 416h2v1h-2zM1002 417h2v1h-2zM1004 418h2v1h-2zM1006 419h2v1h-2zM1008 420h6v1h-6zM1014 421h8v1h-8zM1022 422h6v1h-6zM1028 423h3v1h-3zM1031 424h4v1h-4zM1035 425h3v1h-3zM1038 426h3v1h-3zM1041 427h2v1h-2zM1043 428h2v1h-2zM1045 429h2v1h-2zM1047 430h2v1h-2zM1049 431h2v1h-2zM1051 432h2v1h-2zM1053 433h2v1h-2zM1055 434h2v1h-2zM1057 435h2v1h-2zM1059 436h2v1h-2zM1061 437h2v1h-2zM1063 438h3v1h-3zM1066 439h2v1h-2zM1068 440h3v1h-3zM1071 441h2v1h-2zM1073 442h3v1h-3zM1076 443h2v1h-2zM1078 444h3v1h-3zM1081 445h3v1h-3zM1084 446h3v1h-3zM1087 447h3v1h-3zM1090 448h13v1h-13zM1103 449h8v1h-8zM1111 450h5v1h-5z" fill="#FFFF00"/>
<path d="M540 130h4v1h-4zM539 131h1v1h-1zM544 131h4v1h-4zM537 132h2v1h-2zM548 132h2v1h-2zM536 133h1v1h-1zM550 133h2v1h-2zM535 134h1v1h-1zM552 134h2v1h-2zM534 135h1v1h-1zM554 135h2v1h-2zM532 136h2v1h-2zM556 136h1v1h-1zM530 137h2v1h-2zM557 137h1v2h-1zM528 138h2v1h-2zM526 139h2v1h-2zM558 139h1v2h-1zM524 140h2v1h-2zM523 141h1v1h-1zM559 141h1v2h-1zM522 142h1v1h-1zM520 143h2v1h-2zM560 143h1v1h-1zM519 144h1v1h-1zM561 144h1v2h-1zM518 145h1v1h-1zM516 146h2v1h-2zM562 146h1v2h-1zM515 147h1v1h-1zM514 148h1v1h-1zM563 148h1v2h-1zM512 149h2v1h-2zM511 150h1v1h-1zM564 150h1v1h-1zM510 151h1v1h-1zM565 151h1v2h-1zM508 152h2v1h-2zM507 153h1v1h-1zM566 153h1v1h-1zM506 154h1v1h-1zM567 154h1v2h-1zM505 155h1v1h-1zM503 156h2v1h-2zM568 156h1v1h-1zM502 157h1v1h-1zM569 157h1v2h-1zM501 158h1v1h-1zM499 159h2v1h-2zM570 159h1v1h-1zM498 160h1v1h-1zM571 160h1v2h-1zM497 161h1v1h-1zM496 162h1v1h-1zM572 162h1v1h-1zM494 163h2v1h-2zM573 163h1v1h-1zM493 164h1v1h-1zM574 164h1v1h-1zM491 165h2v1h-2zM575 165h1v1h-1zM489 166h2v1h-2zM576 166h1v1h-1zM487 167h2v1h-2zM577 167h1v1h-1zM484 168h3v1h-3zM578 168h1v2h-1zM482 169h2v1h-2zM480 170h2v1h-2zM579 170h1v1h-1zM478 171h2v1h-2zM580 171h1v1h-1zM475 172h3v1h-3zM581 172h1v1h-1zM473 173h2v1h-2zM582 173h1v1h-1zM471 174h2v1h-2zM583 174h1v1h-1zM469 175h2v1h-2zM584 175h1v1h-1zM467 176h2v1h-2zM585 176h1v1h-1zM465 177h2v1h-2zM586 177h1v2h-1zM463 178h2v1h-2zM462 179h1v1h-1zM587 179h1v1h-1zM460 180h2v1h-2zM588 180h1v1h-1zM459 181h1v1h-1zM589 181h1v1h-1zM458 182h1v1h-1zM590 182h1v1h-1zM456 183h2v1h-2zM591 183h1v2h-1zM455 184h1v1h-1zM454 185h1v1h-1zM592 185h1v1h-1zM452 186h2v1h-2zM593 186h1v1h-1zM451 187h1v1h-1zM594 187h1v1h-1zM450 188h1v1h-1zM595 188h1v1h-1zM449 189h1v1h-1zM596 189h1v1h-1zM448 190h1v1h-1zM597 190h2v1h-2zM447 191h1v1h-1zM599 191h1v1h-1zM446 192h1v1h-1zM600 192h1v1h-1zM445 193h1v2h-1zM601 193h1v1h-1zM602 194h1v1h-1zM444 195h1v1h-1zM603 195h1v1h-1zM443 196h1v1h-1zM604 196h2v1h-2zM442 197h1v1h-1zM606 197h1v1h-1zM441 198h1v1h-1zM607 198h1v1h-1zM440 199h1v1h-1zM608 199h1v1h-1zM434 200h6v1h-6zM609 200h1v1h-1zM39 201h5v1h-5zM424 201h10v1h-10zM610 201h1v2h-1zM35 202h4v1h-4zM44 202h2v1h-2zM418 202h6v1h-6zM32 203h3v1h-3zM46 203h2v1h-2zM416 203h2v1h-2zM611 203h1v1h-1zM29 204h3v1h-3zM48 204h2v1h-2zM414 204h2v1h-2zM612 204h1v1h-1zM17 205h12v1h-12zM50 205h2v1h-2zM412 205h2v1h-2zM613 205h1v1h-1zM13 206h4v1h-4zM52 206h1v1h-1zM410 206h2v1h-2zM614 206h1v2h-1zM10 207h3v1h-3zM53 207h1v1h-1zM408 207h2v1h-2zM9 208h1v1h-1zM54 208h1v1h-1zM407 208h1v1h-1zM615 208h1v1h-1zM8 209h1v1h-1zM55 209h1v1h-1zM406 209h1v1h-1zM616 209h1v1h-1zM6 210h2v1h-2zM56 210h1v1h-1zM405 210h1v1h-1zM617 210h1v2h-1zM5 211h1v1h-1zM57 211h1v1h-1zM404 211h1v1h-1zM4 212h1v1h-1zM58 212h1v1h-1zM403 212h1v1h-1zM618 212h1v1h-1zM3 213h1v1h-1zM59 213h1v1h-1zM402 213h1v1h-1zM619 213h1v1h-1zM60 214h1v1h-1zM400 214h2v1h-2zM620 214h1v1h-1zM61 215h1v1h-1zM399 215h1v1h-1zM621 215h1v1h-1zM62 216h1v2h-1zM398 216h1v1h-1zM622 216h1v1h-1zM397 217h1v1h-1zM623 217h2v1h-2zM63 218h1v1h-1zM396 218h1v1h-1zM625 218h1v1h-1zM64 219h1v1h-1zM395 219h1v1h-1zM626 219h1v1h-1zM65 220h1v2h-1zM394 220h1v1h-1zM627 220h3v1h-3zM393 221h1v1h-1zM630 221h6v1h-6zM66 222h1v1h-1zM392 222h1v1h-1zM636 222h3v1h-3zM67 223h1v1h-1zM390 223h2v1h-2zM639 223h2v1h-2zM68 224h1v1h-1zM389 224h1v1h-1zM641 224h1v1h-1zM69 225h1v2h-1zM388 225h1v1h-1zM642 225h2v1h-2zM387 226h1v1h-1zM644 226h2v1h-2zM70 227h1v1h-1zM386 227h1v1h-1zM646 227h1v1h-1zM71 228h1v1h-1zM385 228h1v1h-1zM647 228h2v1h-2zM72 229h1v2h-1zM383 229h2v1h-2zM649 229h2v1h-2zM382 230h1v1h-1zM651 230h3v1h-3zM73 231h1v1h-1zM381 231h1v1h-1zM654 231h2v1h-2zM74 232h1v1h-1zM380 232h1v1h-1zM656 232h3v1h-3zM75 233h2v1h-2zM379 233h1v1h-1zM659 233h2v1h-2zM77 234h1v1h-1zM378 234h1v1h-1zM661 234h1v1h-1zM78 235h2v1h-2zM377 235h1v1h-1zM662 235h2v1h-2zM80 236h1v1h-1zM376 236h1v1h-1zM664 236h1v1h-1zM81 237h1v1h-1zM375 237h1v2h-1zM665 237h1v1h-1zM82 238h2v1h-2zM666 238h1v1h-1zM84 239h1v1h-1zM374 239h1v1h-1zM667 239h1v1h-1zM85 240h2v1h-2zM373 240h1v1h-1zM668 240h2v1h-2zM87 241h1v1h-1zM372 241h1v1h-1zM670 241h1v1h-1zM88 242h2v1h-2zM371 242h1v1h-1zM671 242h2v1h-2zM90 243h1v1h-1zM370 243h1v1h-1zM673 243h2v1h-2zM91 244h1v1h-1zM369 244h1v1h-1zM675 244h2v1h-2zM92 245h1v1h-1zM368 245h1v1h-1zM677 245h3v1h-3zM93 246h1v1h-1zM367 246h1v2h-1zM680 246h2v1h-2zM94 247h1v1h-1zM682 247h2v1h-2zM95 248h1v1h-1zM366 248h1v1h-1zM684 248h1v1h-1zM96 249h2v1h-2zM365 249h1v1h-1zM685 249h1v1h-1zM98 250h1v1h-1zM364 250h1v1h-1zM686 250h1v2h-1zM99 251h1v1h-1zM363 251h1v1h-1zM100 252h1v1h-1zM362 252h1v1h-1zM687 252h1v1h-1zM101 253h1v1h-1zM361 253h1v1h-1zM688 253h1v1h-1zM102 254h1v1h-1zM360 254h1v2h-1zM689 254h1v1h-1zM103 255h1v1h-1zM690 255h1v1h-1zM104 256h1v2h-1zM359 256h1v1h-1zM691 256h1v1h-1zM358 257h1v1h-1zM692 257h1v1h-1zM105 258h1v1h-1zM357 258h1v1h-1zM693 258h1v2h-1zM106 259h1v1h-1zM356 259h1v1h-1zM107 260h1v1h-1zM355 260h1v1h-1zM694 260h1v1h-1zM108 261h1v2h-1zM354 261h1v1h-1zM695 261h1v1h-1zM353 262h1v2h-1zM696 262h1v1h-1zM109 263h1v1h-1zM194 263h3v1h-3zM697 263h1v1h-1zM110 264h1v1h-1zM191 264h3v1h-3zM197 264h4v1h-4zM352 264h1v1h-1zM698 264h1v1h-1zM111 265h1v1h-1zM189 265h2v1h-2zM201 265h4v1h-4zM351 265h1v1h-1zM699 265h1v2h-1zM112 266h2v1h-2zM186 266h3v1h-3zM205 266h2v1h-2zM350 266h1v1h-1zM114 267h1v1h-1zM184 267h2v1h-2zM207 267h3v1h-3zM349 267h1v1h-1zM700 267h1v1h-1zM115 268h1v1h-1zM182 268h2v1h-2zM210 268h6v1h-6zM348 268h1v1h-1zM701 268h1v1h-1zM116 269h1v1h-1zM181 269h1v1h-1zM216 269h6v1h-6zM347 269h1v1h-1zM702 269h1v1h-1zM117 270h1v1h-1zM179 270h2v1h-2zM222 270h4v1h-4zM346 270h1v2h-1zM703 270h1v1h-1zM118 271h2v1h-2zM177 271h2v1h-2zM226 271h4v1h-4zM704 271h1v1h-1zM120 272h1v1h-1zM176 272h1v1h-1zM230 272h4v1h-4zM345 272h1v1h-1zM705 272h1v1h-1zM121 273h1v1h-1zM174 273h2v1h-2zM234 273h4v1h-4zM344 273h1v1h-1zM706 273h1v2h-1zM122 274h2v1h-2zM173 274h1v1h-1zM238 274h3v1h-3zM343 274h1v2h-1zM124 275h2v1h-2zM172 275h1v1h-1zM241 275h2v1h-2zM707 275h1v1h-1zM126 276h1v1h-1zM170 276h2v1h-2zM243 276h3v1h-3zM342 276h1v1h-1zM708 276h1v1h-1zM127 277h2v1h-2zM169 277h1v1h-1zM246 277h6v1h-6zM341 277h1v1h-1zM709 277h1v1h-1zM129 278h1v1h-1zM168 278h1v1h-1zM252 278h8v1h-8zM340 278h1v1h-1zM710 278h1v1h-1zM130 279h2v1h-2zM167 279h1v1h-1zM260 279h6v1h-6zM339 279h1v2h-1zM711 279h1v2h-1zM132 280h2v1h-2zM166 280h1v1h-1zM266 280h4v1h-4zM134 281h2v1h-2zM164 281h2v1h-2zM270 281h4v1h-4zM338 281h1v1h-1zM712 281h1v1h-1zM136 282h2v1h-2zM163 282h1v1h-1zM274 282h4v1h-4zM337 282h1v1h-1zM713 282h1v1h-1zM138 283h2v1h-2zM161 283h2v1h-2zM278 283h4v1h-4zM336 283h1v1h-1zM714 283h1v1h-1zM140 284h2v1h-2zM159 284h2v1h-2zM282 284h2v1h-2zM335 284h1v1h-1zM715 284h1v2h-1zM142 285h2v1h-2zM157 285h2v1h-2zM284 285h1v1h-1zM334 285h1v1h-1zM144 286h6v1h-6zM155 286h2v1h-2zM285 286h1v1h-1zM333 286h1v1h-1zM716 286h1v1h-1zM150 287h5v1h-5zM286 287h2v1h-2zM332 287h1v1h-1zM717 287h1v1h-1zM288 288h1v1h-1zM331 288h1v1h-1zM718 288h1v2h-1zM289 289h1v1h-1zM330 289h1v1h-1zM290 290h1v1h-1zM329 290h1v1h-1zM719 290h1v1h-1zM291 291h1v1h-1zM328 291h1v1h-1zM720 291h1v2h-1zM292 292h2v1h-2zM327 292h1v1h-1zM294 293h1v1h-1zM326 293h1v1h-1zM721 293h1v2h-1zM295 294h2v1h-2zM324 294h2v1h-2zM297 295h2v1h-2zM322 295h2v1h-2zM722 295h1v1h-1zM299 296h2v1h-2zM320 296h2v1h-2zM723 296h1v2h-1zM301 297h2v1h-2zM318 297h2v1h-2zM303 298h15v1h-15zM724 298h1v1h-1zM725 299h1v1h-1zM726 300h1v2h-1zM727 302h1v1h-1zM728 303h1v1h-1zM729 304h1v1h-1zM812 304h6v1h-6zM730 305h1v2h-1zM808 305h4v1h-4zM818 305h5v1h-5zM840 305h5v1h-5zM806 306h2v1h-2zM823 306h2v1h-2zM835 306h5v1h-5zM845 306h6v1h-6zM731 307h1v1h-1zM805 307h1v1h-1zM825 307h2v1h-2zM831 307h4v1h-4zM851 307h6v1h-6zM732 308h1v1h-1zM804 308h1v1h-1zM827 308h4v1h-4zM857 308h4v1h-4zM733 309h1v2h-1zM803 309h1v1h-1zM861 309h1v1h-1zM802 310h1v1h-1zM862 310h1v2h-1zM734 311h1v1h-1zM800 311h2v1h-2zM735 312h1v1h-1zM799 312h1v1h-1zM863 312h1v1h-1zM736 313h1v1h-1zM798 313h1v1h-1zM864 313h1v1h-1zM737 314h1v1h-1zM797 314h1v1h-1zM865 314h1v2h-1zM738 315h1v2h-1zM796 315h1v1h-1zM795 316h1v1h-1zM866 316h1v1h-1zM739 317h1v1h-1zM793 317h2v1h-2zM867 317h1v1h-1zM740 318h1v1h-1zM791 318h2v1h-2zM868 318h1v2h-1zM741 319h1v1h-1zM790 319h1v1h-1zM742 320h1v1h-1zM788 320h2v1h-2zM869 320h1v1h-1zM743 321h1v1h-1zM787 321h1v1h-1zM870 321h1v1h-1zM744 322h1v1h-1zM785 322h2v1h-2zM871 322h1v1h-1zM745 323h1v2h-1zM783 323h2v1h-2zM872 323h1v1h-1zM780 324h3v1h-3zM873 324h1v1h-1zM746 325h1v1h-1zM776 325h4v1h-4zM874 325h1v2h-1zM747 326h1v1h-1zM754 326h11v1h-11zM772 326h4v1h-4zM748 327h6v1h-6zM765 327h7v1h-7zM875 327h1v1h-1zM876 328h1v1h-1zM877 329h1v1h-1zM878 330h2v1h-2zM880 331h3v1h-3zM883 332h3v1h-3zM886 333h3v1h-3zM889 334h2v1h-2zM891 335h1v1h-1zM892 336h1v1h-1zM893 337h1v1h-1zM894 338h1v1h-1zM895 339h1v2h-1zM896 341h1v1h-1zM897 342h1v1h-1zM898 343h1v1h-1zM899 344h1v1h-1zM900 345h1v1h-1zM901 346h1v1h-1zM902 347h1v1h-1zM903 348h1v1h-1zM904 349h1v1h-1zM905 350h1v2h-1zM906 352h1v1h-1zM907 353h1v1h-1zM908 354h1v1h-1zM909 355h1v1h-1zM910 356h1v1h-1zM911 357h1v1h-1zM912 358h1v1h-1zM913 359h1v1h-1zM914 360h1v1h-1zM915 361h1v1h-1zM916 362h1v2h-1zM917 364h1v1h-1zM918 365h1v1h-1zM919 366h1v1h-1zM920 367h1v1h-1zM921 368h1v1h-1zM922 369h1v2h-1zM923 371h1v1h-1zM924 372h1v2h-1zM925 374h1v1h-1zM926 375h1v1h-1zM927 376h1v2h-1zM928 378h1v1h-1zM929 379h1v2h-1zM930 381h1v1h-1zM931 382h1v2h-1zM932 384h1v1h-1zM933 385h1v1h-1zM934 386h1v1h-1zM935 387h1v2h-1zM936 389h1v1h-1zM937 390h1v1h-1zM938 391h1v1h-1zM939 392h1v1h-1zM940 393h1v2h-1zM941 395h1v1h-1zM942 396h1v1h-1zM943 397h1v1h-1zM944 398h1v1h-1zM945 399h1v1h-1zM946 400h1v1h-1zM947 401h1v1h-1zM948 402h1v1h-1zM949 403h1v2h-1zM950 405h1v1h-1zM951 406h1v1h-1zM952 407h1v1h-1zM953 408h1v1h-1zM954 409h2v1h-2zM956 410h2v1h-2zM958 411h2v1h-2zM960 412h2v1h-2zM962 413h2v1h-2zM964 414h2v1h-2zM966 415h2v1h-2zM968 416h2v1h-2zM970 417h2v1h-2zM972 418h2v1h-2zM974 419h2v1h-2zM976 420h2v1h-2zM978 421h1v1h-1zM979 422h2v1h-2zM981 423h2v1h-2zM983 424h2v1h-2zM985 425h2v1h-2zM987 426h1v1h-1zM988 427h1v1h-1zM989 428h1v1h-1zM990 429h1v2h-1zM991 431h1v1h-1zM992 432h1v1h-1zM1068 432h7v1h-7zM993 433h1v1h-1zM1064 433h4v1h-4zM1075 433h5v1h-5zM994 434h1v1h-1zM1062 434h2v1h-2zM1080 434h2v1h-2zM995 435h1v2h-1zM1060 435h2v1h-2zM1082 435h2v1h-2zM1059 436h1v1h-1zM1084 436h12v1h-12zM996 437h1v1h-1zM1057 437h2v1h-2zM1096 437h4v1h-4zM997 438h1v1h-1zM1056 438h1v1h-1zM1100 438h1v1h-1zM998 439h1v1h-1zM1055 439h1v1h-1zM1101 439h1v1h-1zM999 440h2v1h-2zM1053 440h2v1h-2zM1102 440h1v1h-1zM1001 441h1v1h-1zM1052 441h1v1h-1zM1103 441h2v1h-2zM1002 442h1v1h-1zM1051 442h1v1h-1zM1105 442h1v1h-1zM1003 443h2v1h-2zM1050 443h1v1h-1zM1106 443h1v1h-1zM1005 444h1v1h-1zM1049 444h1v1h-1zM1107 444h1v1h-1zM1006 445h1v1h-1zM1047 445h2v1h-2zM1108 445h1v1h-1zM1007 446h2v1h-2zM1046 446h1v1h-1zM1109 446h2v1h-2zM1009 447h2v1h-2zM1043 447h3v1h-3zM1111 447h1v1h-1zM1011 448h4v1h-4zM1038 448h5v1h-5zM1112 448h1v1h-1zM1015 449h4v1h-4zM1034 449h4v1h-4zM1113 449h2v1h-2zM1019 450h15v1h-15zM1115 450h1v1h-1z" fill="#FF0000"/>
<path d="M499 87h5v1h-5zM498 88h1v1h-1zM504 88h5v1h-5zM497 89h1v2h-1zM509 89h1v2h-1zM496 91h1v1h-1zM510 91h1v2h-1zM495 92h1v1h-1zM494 93h1v2h-1zM511 93h1v2h-1zM493 95h1v1h-1zM512 95h1v2h-1zM492 96h1v2h-1zM513 97h1v2h-1zM491 98h1v2h-1zM514 99h1v2h-1zM490 100h1v3h-1zM515 101h1v2h-1zM489 103h1v2h-1zM516 103h1v2h-1zM488 105h1v3h-1zM517 105h1v2h-1zM518 107h1v2h-1zM487 108h1v2h-1zM519 109h1v2h-1zM486 110h1v3h-1zM520 111h1v2h-1zM485 113h1v3h-1zM521 113h1v2h-1zM522 115h1v2h-1zM484 116h1v3h-1zM523 117h1v1h-1zM524 118h1v2h-1zM483 119h1v3h-1zM525 120h1v1h-1zM526 121h1v2h-1zM482 122h1v4h-1zM527 123h1v1h-1zM528 124h1v2h-1zM481 126h1v3h-1zM529 126h1v1h-1zM530 127h1v2h-1zM480 129h1v3h-1zM531 129h1v1h-1zM532 130h1v2h-1zM479 132h1v3h-1zM533 132h1v1h-1zM534 133h1v2h-1zM478 135h1v3h-1zM535 135h1v1h-1zM536 136h1v2h-1zM477 138h1v3h-1zM537 138h1v1h-1zM538 139h1v2h-1zM476 141h1v3h-1zM539 141h1v2h-1zM540 143h1v3h-1zM475 144h1v3h-1zM541 146h1v2h-1zM474 147h1v3h-1zM542 148h1v3h-1zM473 150h1v3h-1zM543 151h1v3h-1zM472 153h1v3h-1zM544 154h1v3h-1zM471 156h1v3h-1zM545 157h1v2h-1zM396 158h1v1h-1zM395 159h1v1h-1zM397 159h1v1h-1zM470 159h1v3h-1zM546 159h1v3h-1zM394 160h1v1h-1zM398 160h1v2h-1zM393 161h1v1h-1zM392 162h1v1h-1zM399 162h1v1h-1zM469 162h1v3h-1zM547 162h1v3h-1zM391 163h1v1h-1zM400 163h1v1h-1zM390 164h1v1h-1zM401 164h1v2h-1zM389 165h1v1h-1zM468 165h1v3h-1zM548 165h1v3h-1zM388 166h1v1h-1zM402 166h1v1h-1zM387 167h1v1h-1zM403 167h1v2h-1zM385 168h2v1h-2zM467 168h1v3h-1zM549 168h1v2h-1zM383 169h2v1h-2zM404 169h1v2h-1zM381 170h2v1h-2zM550 170h1v3h-1zM380 171h1v1h-1zM405 171h1v3h-1zM466 171h1v3h-1zM379 172h1v2h-1zM551 173h1v3h-1zM378 174h1v1h-1zM406 174h1v2h-1zM465 174h1v3h-1zM377 175h1v2h-1zM407 176h1v3h-1zM552 176h1v3h-1zM376 177h1v2h-1zM464 177h1v4h-1zM10 178h2v1h-2zM8 179h2v1h-2zM12 179h1v1h-1zM375 179h1v2h-1zM408 179h1v3h-1zM553 179h1v3h-1zM6 180h2v1h-2zM13 180h2v1h-2zM4 181h2v1h-2zM15 181h1v1h-1zM374 181h1v3h-1zM463 181h1v3h-1zM3 182h1v1h-1zM16 182h1v1h-1zM409 182h1v2h-1zM554 182h1v2h-1zM17 183h2v1h-2zM19 184h2v1h-2zM373 184h1v2h-1zM410 184h1v3h-1zM462 184h1v3h-1zM555 184h1v3h-1zM21 185h2v1h-2zM23 186h2v1h-2zM372 186h1v3h-1zM25 187h2v1h-2zM411 187h1v2h-1zM461 187h1v3h-1zM556 187h1v3h-1zM27 188h2v1h-2zM29 189h2v1h-2zM371 189h1v2h-1zM412 189h1v2h-1zM31 190h2v1h-2zM460 190h1v3h-1zM557 190h1v2h-1zM33 191h2v1h-2zM370 191h1v3h-1zM413 191h1v2h-1zM35 192h2v1h-2zM558 192h1v3h-1zM37 193h1v2h-1zM414 193h1v2h-1zM459 193h1v3h-1zM369 194h1v2h-1zM38 195h1v1h-1zM415 195h1v2h-1zM559 195h1v2h-1zM39 196h1v2h-1zM368 196h1v3h-1zM458 196h1v2h-1zM416 197h1v2h-1zM560 197h1v3h-1zM40 198h1v2h-1zM457 198h1v3h-1zM367 199h1v2h-1zM417 199h1v2h-1zM41 200h1v1h-1zM561 200h1v2h-1zM42 201h1v2h-1zM366 201h1v3h-1zM418 201h1v2h-1zM456 201h1v3h-1zM562 202h1v3h-1zM43 203h1v2h-1zM419 203h1v2h-1zM365 204h1v2h-1zM455 204h1v2h-1zM44 205h1v2h-1zM420 205h1v2h-1zM563 205h1v2h-1zM364 206h1v3h-1zM454 206h1v3h-1zM45 207h1v2h-1zM421 207h1v2h-1zM564 207h1v2h-1zM46 209h1v3h-1zM363 209h1v2h-1zM422 209h1v1h-1zM453 209h1v3h-1zM565 209h1v2h-1zM423 210h1v2h-1zM362 211h1v2h-1zM566 211h1v1h-1zM47 212h1v3h-1zM424 212h1v2h-1zM452 212h1v2h-1zM567 212h1v2h-1zM361 213h1v3h-1zM425 214h1v2h-1zM451 214h1v3h-1zM568 214h1v1h-1zM48 215h1v3h-1zM569 215h1v2h-1zM360 216h1v2h-1zM426 216h1v2h-1zM450 217h1v2h-1zM570 217h1v1h-1zM49 218h1v4h-1zM359 218h1v3h-1zM427 218h1v1h-1zM571 218h1v2h-1zM626 218h12v1h-12zM428 219h1v2h-1zM449 219h1v2h-1zM623 219h3v1h-3zM638 219h2v1h-2zM572 220h1v1h-1zM612 220h4v1h-4zM621 220h2v1h-2zM640 220h2v1h-2zM358 221h1v2h-1zM429 221h1v2h-1zM448 221h1v2h-1zM573 221h2v1h-2zM610 221h2v1h-2zM616 221h5v1h-5zM642 221h2v1h-2zM50 222h1v3h-1zM575 222h1v1h-1zM609 222h1v1h-1zM644 222h1v1h-1zM357 223h1v3h-1zM430 223h1v2h-1zM447 223h1v2h-1zM576 223h1v1h-1zM607 223h2v1h-2zM645 223h1v1h-1zM577 224h2v1h-2zM606 224h1v1h-1zM646 224h1v1h-1zM51 225h1v3h-1zM431 225h1v1h-1zM446 225h1v2h-1zM579 225h1v1h-1zM605 225h1v1h-1zM647 225h2v1h-2zM356 226h1v3h-1zM432 226h1v2h-1zM580 226h1v1h-1zM603 226h2v1h-2zM649 226h1v1h-1zM445 227h1v2h-1zM581 227h2v1h-2zM602 227h1v1h-1zM650 227h1v1h-1zM52 228h1v2h-1zM433 228h1v2h-1zM583 228h2v1h-2zM600 228h2v1h-2zM651 228h1v1h-1zM355 229h1v4h-1zM443 229h2v1h-2zM585 229h3v1h-3zM598 229h2v1h-2zM652 229h1v1h-1zM53 230h1v2h-1zM434 230h1v2h-1zM440 230h3v1h-3zM588 230h2v1h-2zM597 230h1v1h-1zM653 230h1v1h-1zM437 231h3v1h-3zM590 231h3v1h-3zM595 231h2v1h-2zM654 231h1v2h-1zM54 232h1v2h-1zM435 232h2v1h-2zM593 232h2v1h-2zM354 233h1v3h-1zM655 233h1v1h-1zM55 234h1v3h-1zM656 234h1v1h-1zM657 235h1v1h-1zM353 236h1v3h-1zM658 236h1v2h-1zM56 237h1v2h-1zM659 238h1v1h-1zM57 239h1v2h-1zM352 239h1v4h-1zM660 239h1v2h-1zM58 241h1v3h-1zM661 241h1v2h-1zM351 243h1v3h-1zM662 243h1v2h-1zM59 244h1v2h-1zM663 245h1v2h-1zM60 246h1v3h-1zM350 246h1v3h-1zM664 247h1v2h-1zM61 249h1v3h-1zM349 249h1v3h-1zM665 249h1v2h-1zM194 251h3v1h-3zM666 251h1v2h-1zM62 252h1v2h-1zM190 252h4v1h-4zM197 252h3v1h-3zM348 252h1v4h-1zM184 253h6v1h-6zM200 253h3v1h-3zM667 253h1v2h-1zM63 254h1v3h-1zM180 254h4v1h-4zM203 254h2v1h-2zM178 255h2v1h-2zM205 255h1v1h-1zM668 255h1v2h-1zM177 256h1v1h-1zM206 256h1v1h-1zM347 256h1v3h-1zM64 257h1v3h-1zM176 257h1v1h-1zM207 257h1v1h-1zM669 257h1v1h-1zM174 258h2v1h-2zM208 258h1v1h-1zM670 258h1v1h-1zM173 259h1v1h-1zM209 259h1v1h-1zM346 259h1v3h-1zM671 259h1v2h-1zM65 260h1v2h-1zM172 260h1v1h-1zM210 260h1v1h-1zM804 260h1v1h-1zM170 261h2v1h-2zM211 261h1v2h-1zM672 261h1v1h-1zM803 261h1v2h-1zM805 261h1v1h-1zM66 262h1v2h-1zM169 262h1v1h-1zM345 262h1v2h-1zM673 262h1v1h-1zM806 262h1v1h-1zM168 263h1v1h-1zM212 263h1v1h-1zM674 263h1v2h-1zM802 263h1v2h-1zM807 263h1v2h-1zM67 264h1v3h-1zM166 264h2v1h-2zM213 264h1v1h-1zM344 264h1v2h-1zM165 265h1v1h-1zM214 265h1v1h-1zM675 265h1v1h-1zM801 265h1v1h-1zM808 265h1v1h-1zM164 266h1v1h-1zM215 266h1v1h-1zM343 266h1v2h-1zM676 266h1v2h-1zM800 266h1v2h-1zM809 266h1v1h-1zM68 267h1v2h-1zM163 267h1v1h-1zM216 267h1v1h-1zM810 267h1v1h-1zM162 268h1v1h-1zM217 268h1v1h-1zM342 268h1v2h-1zM677 268h1v1h-1zM799 268h1v2h-1zM811 268h1v1h-1zM69 269h1v2h-1zM161 269h1v2h-1zM218 269h1v2h-1zM678 269h1v1h-1zM812 269h1v2h-1zM341 270h1v2h-1zM679 270h1v2h-1zM798 270h1v1h-1zM70 271h1v2h-1zM160 271h1v1h-1zM219 271h1v1h-1zM797 271h1v2h-1zM813 271h1v1h-1zM159 272h1v1h-1zM220 272h1v1h-1zM340 272h1v2h-1zM680 272h1v1h-1zM814 272h1v1h-1zM71 273h1v2h-1zM158 273h1v1h-1zM221 273h1v2h-1zM681 273h1v1h-1zM796 273h1v2h-1zM815 273h1v2h-1zM157 274h1v1h-1zM339 274h1v2h-1zM682 274h1v2h-1zM72 275h1v2h-1zM136 275h7v1h-7zM155 275h2v1h-2zM222 275h1v1h-1zM795 275h1v1h-1zM816 275h1v1h-1zM132 276h4v1h-4zM143 276h5v1h-5zM152 276h3v1h-3zM223 276h1v1h-1zM338 276h1v2h-1zM683 276h1v2h-1zM794 276h1v2h-1zM817 276h1v1h-1zM73 277h1v2h-1zM131 277h1v1h-1zM148 277h4v1h-4zM224 277h1v2h-1zM818 277h1v2h-1zM130 278h1v1h-1zM337 278h1v2h-1zM684 278h1v3h-1zM793 278h1v2h-1zM74 279h1v1h-1zM129 279h1v1h-1zM225 279h1v1h-1zM819 279h1v1h-1zM75 280h1v1h-1zM128 280h1v1h-1zM226 280h1v2h-1zM336 280h1v1h-1zM792 280h1v2h-1zM820 280h1v1h-1zM76 281h1v1h-1zM127 281h1v1h-1zM335 281h1v2h-1zM685 281h1v2h-1zM821 281h1v2h-1zM77 282h1v1h-1zM126 282h1v1h-1zM227 282h1v1h-1zM791 282h1v2h-1zM78 283h1v1h-1zM124 283h2v1h-2zM228 283h1v1h-1zM334 283h1v1h-1zM686 283h1v3h-1zM822 283h1v1h-1zM79 284h1v1h-1zM122 284h2v1h-2zM229 284h1v2h-1zM333 284h1v1h-1zM790 284h1v3h-1zM823 284h1v1h-1zM80 285h1v1h-1zM119 285h3v1h-3zM332 285h1v2h-1zM824 285h1v2h-1zM81 286h1v1h-1zM117 286h2v1h-2zM230 286h1v1h-1zM278 286h5v1h-5zM687 286h1v3h-1zM82 287h1v1h-1zM115 287h2v1h-2zM231 287h1v1h-1zM274 287h4v1h-4zM283 287h3v1h-3zM331 287h1v1h-1zM789 287h1v2h-1zM825 287h1v1h-1zM83 288h1v1h-1zM114 288h1v2h-1zM232 288h1v2h-1zM272 288h2v1h-2zM286 288h2v1h-2zM330 288h1v1h-1zM826 288h1v2h-1zM84 289h1v1h-1zM270 289h2v1h-2zM288 289h2v1h-2zM329 289h1v1h-1zM688 289h1v2h-1zM788 289h1v3h-1zM85 290h1v1h-1zM113 290h1v2h-1zM233 290h1v1h-1zM269 290h1v1h-1zM290 290h2v1h-2zM328 290h1v2h-1zM827 290h1v2h-1zM86 291h1v1h-1zM234 291h1v1h-1zM267 291h2v1h-2zM292 291h2v1h-2zM689 291h1v3h-1zM87 292h1v1h-1zM112 292h1v1h-1zM235 292h2v1h-2zM265 292h2v1h-2zM294 292h2v1h-2zM327 292h1v1h-1zM787 292h1v2h-1zM828 292h1v1h-1zM88 293h1v1h-1zM111 293h1v2h-1zM237 293h1v1h-1zM264 293h1v1h-1zM296 293h2v1h-2zM326 293h1v1h-1zM829 293h1v2h-1zM89 294h2v1h-2zM238 294h1v1h-1zM262 294h2v1h-2zM298 294h6v1h-6zM325 294h1v1h-1zM690 294h1v2h-1zM786 294h1v3h-1zM91 295h1v1h-1zM109 295h2v1h-2zM239 295h1v1h-1zM261 295h1v1h-1zM304 295h6v1h-6zM323 295h2v1h-2zM830 295h1v1h-1zM92 296h2v1h-2zM107 296h2v1h-2zM240 296h2v1h-2zM259 296h2v1h-2zM310 296h1v1h-1zM322 296h1v1h-1zM691 296h1v2h-1zM831 296h1v2h-1zM94 297h2v1h-2zM105 297h2v1h-2zM242 297h1v1h-1zM258 297h1v1h-1zM311 297h1v1h-1zM321 297h1v1h-1zM785 297h1v2h-1zM96 298h1v1h-1zM103 298h2v1h-2zM243 298h1v1h-1zM256 298h2v1h-2zM312 298h2v1h-2zM320 298h1v1h-1zM692 298h1v2h-1zM832 298h1v2h-1zM97 299h2v1h-2zM101 299h2v1h-2zM244 299h2v1h-2zM255 299h1v1h-1zM314 299h1v1h-1zM318 299h2v1h-2zM784 299h1v3h-1zM99 300h2v1h-2zM246 300h2v1h-2zM254 300h1v1h-1zM315 300h1v1h-1zM317 300h1v1h-1zM693 300h1v1h-1zM833 300h1v1h-1zM248 301h2v1h-2zM252 301h2v1h-2zM316 301h1v1h-1zM694 301h1v2h-1zM834 301h1v2h-1zM250 302h2v1h-2zM783 302h1v2h-1zM695 303h1v2h-1zM835 303h1v2h-1zM782 304h1v2h-1zM696 305h1v1h-1zM836 305h1v2h-1zM697 306h1v2h-1zM781 306h1v2h-1zM837 307h1v2h-1zM698 308h1v1h-1zM780 308h1v1h-1zM699 309h1v1h-1zM779 309h1v2h-1zM838 309h1v2h-1zM700 310h1v2h-1zM778 311h1v2h-1zM839 311h1v2h-1zM701 312h1v1h-1zM702 313h1v1h-1zM777 313h1v1h-1zM840 313h1v3h-1zM703 314h1v2h-1zM776 314h1v2h-1zM704 316h1v1h-1zM775 316h1v1h-1zM841 316h1v2h-1zM705 317h1v1h-1zM774 317h1v2h-1zM706 318h1v2h-1zM842 318h1v2h-1zM773 319h1v2h-1zM707 320h1v1h-1zM843 320h1v3h-1zM708 321h1v1h-1zM772 321h1v1h-1zM709 322h1v2h-1zM771 322h1v2h-1zM844 323h1v2h-1zM710 324h1v1h-1zM770 324h1v1h-1zM711 325h1v1h-1zM769 325h1v1h-1zM845 325h1v2h-1zM712 326h1v2h-1zM768 326h1v1h-1zM767 327h1v1h-1zM846 327h1v2h-1zM713 328h1v1h-1zM766 328h1v1h-1zM714 329h1v1h-1zM765 329h1v1h-1zM847 329h1v2h-1zM715 330h1v1h-1zM764 330h1v2h-1zM716 331h1v2h-1zM848 331h1v2h-1zM763 332h1v1h-1zM717 333h1v1h-1zM762 333h1v1h-1zM849 333h1v2h-1zM718 334h1v1h-1zM761 334h1v1h-1zM719 335h1v2h-1zM760 335h1v1h-1zM850 335h1v2h-1zM759 336h1v1h-1zM720 337h1v1h-1zM758 337h1v1h-1zM851 337h1v2h-1zM721 338h1v1h-1zM757 338h1v1h-1zM722 339h1v1h-1zM756 339h1v2h-1zM852 339h1v2h-1zM723 340h1v1h-1zM724 341h1v1h-1zM755 341h1v2h-1zM853 341h1v2h-1zM725 342h1v1h-1zM726 343h1v1h-1zM754 343h1v2h-1zM854 343h1v2h-1zM727 344h1v2h-1zM753 345h1v1h-1zM855 345h1v2h-1zM728 346h1v1h-1zM752 346h1v2h-1zM729 347h1v1h-1zM856 347h1v2h-1zM730 348h1v1h-1zM751 348h1v2h-1zM731 349h1v1h-1zM857 349h1v2h-1zM732 350h1v1h-1zM750 350h1v1h-1zM733 351h2v1h-2zM749 351h1v2h-1zM858 351h1v2h-1zM735 352h2v1h-2zM737 353h2v1h-2zM748 353h1v2h-1zM859 353h1v2h-1zM739 354h2v1h-2zM741 355h2v1h-2zM747 355h1v2h-1zM860 355h1v1h-1zM743 356h2v1h-2zM861 356h1v2h-1zM745 357h2v1h-2zM862 358h1v2h-1zM863 360h1v1h-1zM864 361h1v2h-1zM865 363h1v1h-1zM866 364h1v2h-1zM904 364h4v1h-4zM900 365h4v1h-4zM908 365h3v1h-3zM867 366h1v2h-1zM896 366h4v1h-4zM911 366h4v1h-4zM893 367h3v1h-3zM915 367h2v1h-2zM868 368h1v1h-1zM891 368h2v1h-2zM917 368h2v1h-2zM869 369h1v2h-1zM889 369h2v1h-2zM919 369h2v1h-2zM887 370h2v1h-2zM921 370h2v1h-2zM870 371h1v1h-1zM885 371h2v1h-2zM923 371h1v2h-1zM871 372h1v1h-1zM884 372h1v1h-1zM872 373h1v2h-1zM882 373h2v1h-2zM924 373h1v2h-1zM881 374h1v1h-1zM873 375h1v1h-1zM879 375h2v1h-2zM925 375h1v3h-1zM874 376h1v2h-1zM878 376h1v1h-1zM876 377h2v1h-2zM875 378h1v1h-1zM926 378h1v2h-1zM927 380h1v2h-1zM928 382h1v3h-1zM929 385h1v2h-1zM930 387h1v3h-1zM931 390h1v2h-1zM932 392h1v3h-1zM933 395h1v3h-1zM934 398h1v2h-1zM935 400h1v3h-1zM936 403h1v3h-1zM937 406h1v2h-1zM938 408h1v3h-1zM939 411h1v3h-1zM940 414h1v3h-1zM941 417h1v2h-1zM942 419h1v3h-1zM943 422h1v3h-1zM1067 422h1v1h-1zM1051 423h3v1h-3zM1065 423h2v1h-2zM1068 423h1v1h-1zM1049 424h2v1h-2zM1054 424h2v1h-2zM1063 424h2v1h-2zM1069 424h1v1h-1zM944 425h1v2h-1zM1047 425h2v1h-2zM1056 425h3v1h-3zM1061 425h2v1h-2zM1070 425h2v1h-2zM1037 426h4v1h-4zM1045 426h2v1h-2zM1059 426h2v1h-2zM1072 426h1v1h-1zM945 427h1v3h-1zM1035 427h2v1h-2zM1041 427h4v1h-4zM1073 427h1v1h-1zM1034 428h1v1h-1zM1074 428h1v1h-1zM1033 429h1v1h-1zM1075 429h1v1h-1zM946 430h1v2h-1zM1031 430h2v1h-2zM1076 430h2v1h-2zM1030 431h1v1h-1zM1078 431h1v1h-1zM947 432h1v3h-1zM1029 432h1v1h-1zM1079 432h1v1h-1zM1027 433h2v1h-2zM1080 433h1v1h-1zM1025 434h2v1h-2zM1081 434h1v2h-1zM948 435h1v2h-1zM1022 435h3v1h-3zM1019 436h3v1h-3zM1082 436h1v1h-1zM949 437h1v2h-1zM1017 437h2v1h-2zM1083 437h1v1h-1zM1014 438h3v1h-3zM1084 438h1v2h-1zM950 439h1v3h-1zM1012 439h2v1h-2zM1010 440h2v1h-2zM1085 440h1v1h-1zM1009 441h1v1h-1zM1086 441h1v1h-1zM951 442h1v2h-1zM1008 442h1v1h-1zM1087 442h1v2h-1zM1006 443h2v1h-2zM952 444h1v3h-1zM1005 444h1v1h-1zM1088 444h1v1h-1zM1004 445h1v1h-1zM1089 445h1v1h-1zM1003 446h1v2h-1zM1090 446h1v2h-1zM1097 446h3v1h-3zM953 447h1v2h-1zM1093 447h4v1h-4zM1100 447h1v2h-1zM1002 448h1v2h-1zM1091 448h2v1h-2zM954 449h1v2h-1zM1101 449h1v2h-1zM1001 450h1v2h-1zM955 451h1v1h-1zM1102 451h1v3h-1zM956 452h1v2h-1zM1000 452h1v2h-1zM957 454h1v1h-1zM999 454h1v2h-1zM1103 454h1v2h-1zM958 455h1v1h-1zM959 456h1v1h-1zM998 456h1v2h-1zM1104 456h1v2h-1zM960 457h1v2h-1zM997 458h1v2h-1zM1105 458h1v3h-1zM961 459h1v1h-1zM962 460h1v1h-1zM996 460h1v1h-1zM963 461h1v2h-1zM995 461h1v1h-1zM1106 461h1v2h-1zM993 462h2v1h-2zM964 463h1v1h-1zM992 463h1v1h-1zM1107 463h1v2h-1zM965 464h1v1h-1zM991 464h1v1h-1zM966 465h2v1h-2zM990 465h1v1h-1zM1108 465h1v2h-1zM968 466h1v1h-1zM989 466h1v1h-1zM969 467h1v1h-1zM987 467h2v1h-2zM1109 467h1v1h-1zM970 468h2v1h-2zM986 468h1v1h-1zM1110 468h1v1h-1zM972 469h1v1h-1zM985 469h1v1h-1zM1111 469h1v2h-1zM973 470h2v1h-2zM984 470h1v1h-1zM975 471h1v1h-1zM983 471h1v1h-1zM1112 471h1v1h-1zM976 472h1v1h-1zM981 472h2v1h-2zM1113 472h1v1h-1zM977 473h2v1h-2zM980 473h1v1h-1zM1114 473h1v2h-1zM979 474h1v1h-1zM1115 475h1v1h-1z" fill="#0000CD"/>
<rect x="3" y="61" width="1417" height="3" fill="#FF0000"/>
<rect x="3" y="179" width="1417" height="3" fill="#FF0000"/>
<rect x="3" y="277" width="1417" height="3" fill="#FF0000"/>
<rect x="3" y="369" width="1417" height="3" fill="#00FF00"/>
<rect x="3" y="452" width="1417" height="3" fill="#0000FF"/>
<defs><linearGradient id="rg" x1="0" y1="0" x2="0" y2="1"><stop offset="0" stop-color="#ff5454"/><stop offset="0.38" stop-color="#e03030"/><stop offset="1" stop-color="#ae0000"/></linearGradient><linearGradient id="gg" x1="0" y1="0" x2="0" y2="1"><stop offset="0" stop-color="#f4f4f4"/><stop offset="0.45" stop-color="#e6e6e6"/><stop offset="0.5" stop-color="#d4d4d4"/><stop offset="1" stop-color="#cccccc"/></linearGradient></defs>
<rect x="4" y="43" width="223" height="66" fill="#fff"/>
<path d="M6.5,44.5 H57.5 V68.5 H114.5 V107.5 H6.5 Z" fill="url(#rg)" stroke="#c80000" stroke-width="1"/>
<path d="M173.5,44.5 H224.5 V107.5 H117.5 V68.5 H173.5 Z" fill="url(#rg)" stroke="#c80000" stroke-width="1"/>
<rect x="10" y="67" width="44" height="1" fill="#8a0000"/>
<rect x="10" y="68" width="44" height="1" fill="#f06060"/>
<rect x="177" y="67" width="44" height="1" fill="#8a0000"/>
<rect x="177" y="68" width="44" height="1" fill="#f06060"/>
<rect x="60.5" y="44.5" width="110" height="21" fill="#fff" stroke="#a0a4ac" stroke-width="1"/>
<rect x="61.5" y="45.5" width="20" height="19" fill="url(#gg)" stroke="#b8bcc4" stroke-width="1"/>
<rect x="150.5" y="45.5" width="20" height="19" fill="url(#gg)" stroke="#b8bcc4" stroke-width="1"/>
<polygon points="68,53 74,53 71,56.5" fill="#4a62c8" shape-rendering="auto"/>
<polygon points="157,56 163,56 160,52.5" fill="#4a62c8" shape-rendering="auto"/>
<text x="122.3" y="58.9" font-size="12" fill="#000" textLength="23.9" lengthAdjust="spacingAndGlyphs">1.00</text>
<text x="18.5" y="59.7" font-size="13" fill="#ffe6e6" textLength="25.5" lengthAdjust="spacingAndGlyphs">SELL</text>
<text x="186.5" y="59.7" font-size="13" fill="#ffe6e6" textLength="23.5" lengthAdjust="spacingAndGlyphs">BUY</text>
<text x="26.3" y="98.8" font-size="12.7" fill="#fff" textLength="23.5" lengthAdjust="spacingAndGlyphs" font-weight="bold">1.09</text>
<text x="136.3" y="98.8" font-size="12.7" fill="#fff" textLength="23.5" lengthAdjust="spacingAndGlyphs" font-weight="bold">1.09</text>
<text x="54.7" y="98.8" font-size="34.3" fill="#fff" textLength="33.3" lengthAdjust="spacingAndGlyphs">54</text>
<text x="166" y="98.8" font-size="34.3" fill="#fff" textLength="32.4" lengthAdjust="spacingAndGlyphs">55</text>
<text x="93.3" y="82.8" font-size="12.7" fill="#fff" textLength="6.6" lengthAdjust="spacingAndGlyphs" font-weight="bold">1</text>
<text x="204.2" y="82.8" font-size="12.7" fill="#fff" textLength="6.5" lengthAdjust="spacingAndGlyphs" font-weight="bold">9</text>
<rect x="3" y="614" width="1" height="2" fill="#C0C0C0"/>
<rect x="11" y="614" width="1" height="2" fill="#C0C0C0"/>
<rect x="19" y="614" width="1" height="4" fill="#C0C0C0"/>
<rect x="27" y="614" width="1" height="5" fill="#C0C0C0"/>
<rect x="35" y="614" width="1" height="6" fill="#C0C0C0"/>
<rect x="43" y="614" width="1" height="9" fill="#C0C0C0"/>
<rect x="51" y="614" width="1" height="17" fill="#C0C0C0"/>
<rect x="59" y="614" width="1" height="25" fill="#C0C0C0"/>
<rect x="67" y="614" width="1" height="29" fill="#C0C0C0"/>
<rect x="75" y="614" width="1" height="32" fill="#C0C0C0"/>
<rect x="83" y="614" width="1" height="31" fill="#C0C0C0"/>
<rect x="91" y="614" width="1" height="27" fill="#C0C0C0"/>
<rect x="99" y="614" width="1" height="27" fill="#C0C0C0"/>
<rect x="107" y="614" width="1" height="27" fill="#C0C0C0"/>
<rect x="115" y="614" width="1" height="25" fill="#C0C0C0"/>
<rect x="123" y="614" width="1" height="25" fill="#C0C0C0"/>
<rect x="131" y="614" width="1" height="22" fill="#C0C0C0"/>
<rect x="139" y="614" width="1" height="21" fill="#C0C0C0"/>
<rect x="147" y="614" width="1" height="19" fill="#C0C0C0"/>
<rect x="155" y="614" width="1" height="16" fill="#C0C0C0"/>
<rect x="163" y="614" width="1" height="13" fill="#C0C0C0"/>
<rect x="171" y="614" width="1" height="9" fill="#C0C0C0"/>
<rect x="179" y="614" width="1" height="7" fill="#C0C0C0"/>
<rect x="187" y="614" width="1" height="7" fill="#C0C0C0"/>
<rect x="195" y="614" width="1" height="7" fill="#C0C0C0"/>
<rect x="203" y="614" width="1" height="10" fill="#C0C0C0"/>
<rect x="211" y="614" width="1" height="12" fill="#C0C0C0"/>
<rect x="219" y="614" width="1" height="14" fill="#C0C0C0"/>
<rect x="227" y="614" width="1" height="15" fill="#C0C0C0"/>
<rect x="235" y="614" width="1" height="16" fill="#C0C0C0"/>
<rect x="243" y="614" width="1" height="18" fill="#C0C0C0"/>
<rect x="251" y="614" width="1" height="16" fill="#C0C0C0"/>
<rect x="259" y="614" width="1" height="12" fill="#C0C0C0"/>
<rect x="267" y="614" width="1" height="10" fill="#C0C0C0"/>
<rect x="275" y="614" width="1" height="10" fill="#C0C0C0"/>
<rect x="283" y="614" width="1" height="11" fill="#C0C0C0"/>
<rect x="291" y="614" width="1" height="14" fill="#C0C0C0"/>
<rect x="299" y="614" width="1" height="16" fill="#C0C0C0"/>
<rect x="307" y="614" width="1" height="15" fill="#C0C0C0"/>
<rect x="315" y="614" width="1" height="14" fill="#C0C0C0"/>
<rect x="323" y="614" width="1" height="7" fill="#C0C0C0"/>
<rect x="331" y="614" width="1" height="2" fill="#C0C0C0"/>
<rect x="339" y="612" width="1" height="3" fill="#C0C0C0"/>
<rect x="347" y="606" width="1" height="9" fill="#C0C0C0"/>
<rect x="355" y="596" width="1" height="19" fill="#C0C0C0"/>
<rect x="363" y="590" width="1" height="25" fill="#C0C0C0"/>
<rect x="371" y="585" width="1" height="30" fill="#C0C0C0"/>
<rect x="379" y="581" width="1" height="34" fill="#C0C0C0"/>
<rect x="387" y="582" width="1" height="33" fill="#C0C0C0"/>
<rect x="395" y="583" width="1" height="32" fill="#C0C0C0"/>
<rect x="403" y="592" width="1" height="23" fill="#C0C0C0"/>
<rect x="411" y="597" width="1" height="18" fill="#C0C0C0"/>
<rect x="419" y="601" width="1" height="14" fill="#C0C0C0"/>
<rect x="427" y="606" width="1" height="9" fill="#C0C0C0"/>
<rect x="435" y="607" width="1" height="8" fill="#C0C0C0"/>
<rect x="443" y="603" width="1" height="12" fill="#C0C0C0"/>
<rect x="451" y="594" width="1" height="21" fill="#C0C0C0"/>
<rect x="459" y="586" width="1" height="29" fill="#C0C0C0"/>
<rect x="467" y="579" width="1" height="36" fill="#C0C0C0"/>
<rect x="475" y="576" width="1" height="39" fill="#C0C0C0"/>
<rect x="483" y="574" width="1" height="41" fill="#C0C0C0"/>
<rect x="491" y="573" width="1" height="42" fill="#C0C0C0"/>
<rect x="499" y="572" width="1" height="43" fill="#C0C0C0"/>
<rect x="507" y="573" width="1" height="42" fill="#C0C0C0"/>
<rect x="515" y="581" width="1" height="34" fill="#C0C0C0"/>
<rect x="523" y="587" width="1" height="28" fill="#C0C0C0"/>
<rect x="531" y="592" width="1" height="23" fill="#C0C0C0"/>
<rect x="539" y="597" width="1" height="18" fill="#C0C0C0"/>
<rect x="547" y="606" width="1" height="9" fill="#C0C0C0"/>
<rect x="555" y="612" width="1" height="3" fill="#C0C0C0"/>
<rect x="563" y="614" width="1" height="5" fill="#C0C0C0"/>
<rect x="571" y="614" width="1" height="10" fill="#C0C0C0"/>
<rect x="579" y="614" width="1" height="10" fill="#C0C0C0"/>
<rect x="587" y="614" width="1" height="11" fill="#C0C0C0"/>
<rect x="595" y="614" width="1" height="9" fill="#C0C0C0"/>
<rect x="603" y="614" width="1" height="8" fill="#C0C0C0"/>
<rect x="611" y="614" width="1" height="6" fill="#C0C0C0"/>
<rect x="619" y="614" width="1" height="11" fill="#C0C0C0"/>
<rect x="627" y="614" width="1" height="13" fill="#C0C0C0"/>
<rect x="635" y="614" width="1" height="11" fill="#C0C0C0"/>
<rect x="643" y="614" width="1" height="14" fill="#C0C0C0"/>
<rect x="651" y="614" width="1" height="14" fill="#C0C0C0"/>
<rect x="659" y="614" width="1" height="16" fill="#C0C0C0"/>
<rect x="667" y="614" width="1" height="22" fill="#C0C0C0"/>
<rect x="675" y="614" width="1" height="28" fill="#C0C0C0"/>
<rect x="683" y="614" width="1" height="31" fill="#C0C0C0"/>
<rect x="691" y="614" width="1" height="36" fill="#C0C0C0"/>
<rect x="699" y="614" width="1" height="37" fill="#C0C0C0"/>
<rect x="707" y="614" width="1" height="37" fill="#C0C0C0"/>
<rect x="715" y="614" width="1" height="37" fill="#C0C0C0"/>
<rect x="723" y="614" width="1" height="43" fill="#C0C0C0"/>
<rect x="731" y="614" width="1" height="46" fill="#C0C0C0"/>
<rect x="739" y="614" width="1" height="45" fill="#C0C0C0"/>
<rect x="747" y="614" width="1" height="45" fill="#C0C0C0"/>
<rect x="755" y="614" width="1" height="33" fill="#C0C0C0"/>
<rect x="763" y="614" width="1" height="26" fill="#C0C0C0"/>
<rect x="771" y="614" width="1" height="20" fill="#C0C0C0"/>
<rect x="779" y="614" width="1" height="17" fill="#C0C0C0"/>
<rect x="787" y="614" width="1" height="13" fill="#C0C0C0"/>
<rect x="795" y="614" width="1" height="9" fill="#C0C0C0"/>
<rect x="803" y="614" width="1" height="5" fill="#C0C0C0"/>
<rect x="811" y="614" width="1" height="6" fill="#C0C0C0"/>
<rect x="819" y="614" width="1" height="9" fill="#C0C0C0"/>
<rect x="827" y="614" width="1" height="13" fill="#C0C0C0"/>
<rect x="835" y="614" width="1" height="19" fill="#C0C0C0"/>
<rect x="843" y="614" width="1" height="22" fill="#C0C0C0"/>
<rect x="851" y="614" width="1" height="26" fill="#C0C0C0"/>
<rect x="859" y="614" width="1" height="28" fill="#C0C0C0"/>
<rect x="867" y="614" width="1" height="29" fill="#C0C0C0"/>
<rect x="875" y="614" width="1" height="30" fill="#C0C0C0"/>
<rect x="883" y="614" width="1" height="26" fill="#C0C0C0"/>
<rect x="891" y="614" width="1" height="22" fill="#C0C0C0"/>
<rect x="899" y="614" width="1" height="22" fill="#C0C0C0"/>
<rect x="907" y="614" width="1" height="24" fill="#C0C0C0"/>
<rect x="915" y="614" width="1" height="25" fill="#C0C0C0"/>
<rect x="923" y="614" width="1" height="27" fill="#C0C0C0"/>
<rect x="931" y="614" width="1" height="36" fill="#C0C0C0"/>
<rect x="939" y="614" width="1" height="41" fill="#C0C0C0"/>
<rect x="947" y="614" width="1" height="47" fill="#C0C0C0"/>
<rect x="955" y="614" width="1" height="50" fill="#C0C0C0"/>
<rect x="963" y="614" width="1" height="47" fill="#C0C0C0"/>
<rect x="971" y="614" width="1" height="44" fill="#C0C0C0"/>
<rect x="979" y="614" width="1" height="40" fill="#C0C0C0"/>
<rect x="987" y="614" width="1" height="40" fill="#C0C0C0"/>
<rect x="995" y="614" width="1" height="36" fill="#C0C0C0"/>
<rect x="1003" y="614" width="1" height="32" fill="#C0C0C0"/>
<rect x="1011" y="614" width="1" height="31" fill="#C0C0C0"/>
<rect x="1019" y="614" width="1" height="28" fill="#C0C0C0"/>
<rect x="1027" y="614" width="1" height="24" fill="#C0C0C0"/>
<rect x="1035" y="614" width="1" height="18" fill="#C0C0C0"/>
<rect x="1043" y="614" width="1" height="21" fill="#C0C0C0"/>
<rect x="1051" y="614" width="1" height="17" fill="#C0C0C0"/>
<rect x="1059" y="614" width="1" height="17" fill="#C0C0C0"/>
<rect x="1067" y="614" width="1" height="16" fill="#C0C0C0"/>
<rect x="1075" y="614" width="1" height="17" fill="#C0C0C0"/>
<rect x="1083" y="614" width="1" height="18" fill="#C0C0C0"/>
<rect x="1091" y="614" width="1" height="19" fill="#C0C0C0"/>
<rect x="1099" y="614" width="1" height="20" fill="#C0C0C0"/>
<rect x="1107" y="614" width="1" height="25" fill="#C0C0C0"/>
<rect x="1115" y="614" width="1" height="28" fill="#C0C0C0"/>
<path d="M514 578h2v1h-2zM519 578h3v1h-3zM525 578h3v1h-3zM531 578h2v1h-2zM513 579h1v1h-1zM533 579h1v1h-1zM509 580h1v1h-1zM537 580h3v1h-3zM507 581h2v1h-2zM503 582h1v1h-1zM543 582h3v1h-3zM501 583h2v1h-2zM549 584h1v1h-1zM495 585h3v1h-3zM550 585h2v1h-2zM491 587h1v1h-1zM555 587h1v1h-1zM489 588h2v1h-2zM556 588h2v1h-2zM411 589h3v1h-3zM417 589h3v1h-3zM405 590h3v1h-3zM423 590h3v1h-3zM401 591h1v1h-1zM429 591h3v1h-3zM484 591h2v1h-2zM561 591h2v1h-2zM399 592h2v1h-2zM435 592h2v1h-2zM479 592h1v1h-1zM483 592h1v1h-1zM563 592h1v1h-1zM394 593h2v1h-2zM437 593h1v1h-1zM473 593h1v1h-1zM477 593h2v1h-2zM393 594h1v1h-1zM441 594h3v1h-3zM471 594h2v1h-2zM447 595h3v1h-3zM453 595h2v1h-2zM465 595h3v1h-3zM567 595h1v1h-1zM388 596h2v1h-2zM455 596h1v1h-1zM459 596h3v1h-3zM568 596h1v1h-1zM387 597h1v1h-1zM569 597h1v1h-1zM383 600h1v1h-1zM573 600h1v1h-1zM381 601h2v1h-2zM574 601h1v1h-1zM575 602h1v1h-1zM377 604h1v1h-1zM376 605h1v1h-1zM579 605h1v1h-1zM375 606h1v1h-1zM580 606h2v1h-2zM585 608h1v1h-1zM370 609h2v1h-2zM586 609h2v1h-2zM369 610h1v1h-1zM364 612h2v1h-2zM591 612h2v1h-2zM363 613h1v1h-1zM593 613h1v1h-1zM358 615h2v1h-2zM597 615h3v1h-3zM357 616h1v1h-1zM603 616h2v1h-2zM353 617h1v1h-1zM605 617h1v1h-1zM351 618h2v1h-2zM609 618h1v1h-1zM39 619h3v1h-3zM45 619h3v1h-3zM51 619h2v1h-2zM346 619h2v1h-2zM610 619h2v1h-2zM33 620h3v1h-3zM53 620h1v1h-1zM345 620h1v1h-1zM615 620h2v1h-2zM29 621h1v1h-1zM57 621h3v1h-3zM617 621h1v1h-1zM23 622h1v1h-1zM27 622h2v1h-2zM340 622h2v1h-2zM621 622h3v1h-3zM17 623h1v1h-1zM21 623h2v1h-2zM63 623h1v1h-1zM335 623h1v1h-1zM339 623h1v1h-1zM627 623h3v1h-3zM15 624h2v1h-2zM64 624h2v1h-2zM225 624h3v1h-3zM327 624h3v1h-3zM333 624h2v1h-2zM633 624h3v1h-3zM639 624h3v1h-3zM645 624h2v1h-2zM10 625h2v1h-2zM201 625h3v1h-3zM207 625h3v1h-3zM213 625h3v1h-3zM219 625h3v1h-3zM231 625h3v1h-3zM237 625h2v1h-2zM321 625h3v1h-3zM647 625h1v1h-1zM651 625h3v1h-3zM9 626h1v1h-1zM69 626h1v1h-1zM197 626h1v1h-1zM239 626h1v1h-1zM243 626h3v1h-3zM279 626h3v1h-3zM285 626h3v1h-3zM291 626h3v1h-3zM311 626h1v1h-1zM315 626h3v1h-3zM657 626h3v1h-3zM826 626h2v1h-2zM831 626h3v1h-3zM837 626h3v1h-3zM843 626h3v1h-3zM70 627h2v1h-2zM195 627h2v1h-2zM249 627h3v1h-3zM255 627h3v1h-3zM261 627h3v1h-3zM267 627h3v1h-3zM273 627h3v1h-3zM297 627h3v1h-3zM303 627h3v1h-3zM309 627h2v1h-2zM663 627h3v1h-3zM825 627h1v1h-1zM849 627h3v1h-3zM4 628h2v1h-2zM189 628h3v1h-3zM669 628h3v1h-3zM821 628h1v1h-1zM855 628h2v1h-2zM3 629h1v1h-1zM75 629h2v1h-2zM185 629h1v1h-1zM675 629h1v1h-1zM819 629h2v1h-2zM857 629h1v1h-1zM77 630h1v1h-1zM183 630h2v1h-2zM676 630h2v1h-2zM861 630h3v1h-3zM81 631h1v1h-1zM177 631h3v1h-3zM814 631h2v1h-2zM867 631h2v1h-2zM82 632h2v1h-2zM173 632h1v1h-1zM681 632h1v1h-1zM813 632h1v1h-1zM869 632h1v1h-1zM1089 632h3v1h-3zM1095 632h3v1h-3zM1101 632h2v1h-2zM171 633h2v1h-2zM682 633h2v1h-2zM873 633h3v1h-3zM1079 633h1v1h-1zM1083 633h3v1h-3zM1103 633h1v1h-1zM1107 633h3v1h-3zM1113 633h3v1h-3zM87 634h3v1h-3zM165 634h3v1h-3zM687 634h2v1h-2zM808 634h2v1h-2zM1077 634h2v1h-2zM159 635h3v1h-3zM689 635h1v1h-1zM807 635h1v1h-1zM879 635h3v1h-3zM1071 635h3v1h-3zM93 636h3v1h-3zM154 636h2v1h-2zM693 636h2v1h-2zM99 637h2v1h-2zM153 637h1v1h-1zM695 637h1v1h-1zM803 637h1v1h-1zM885 637h3v1h-3zM1065 637h3v1h-3zM101 638h1v1h-1zM149 638h1v1h-1zM699 638h2v1h-2zM801 638h2v1h-2zM891 638h3v1h-3zM897 638h3v1h-3zM1061 638h1v1h-1zM105 639h3v1h-3zM143 639h1v1h-1zM147 639h2v1h-2zM701 639h1v1h-1zM903 639h2v1h-2zM1059 639h2v1h-2zM111 640h3v1h-3zM117 640h2v1h-2zM135 640h3v1h-3zM141 640h2v1h-2zM705 640h1v1h-1zM905 640h1v1h-1zM909 640h3v1h-3zM915 640h3v1h-3zM921 640h3v1h-3zM1053 640h3v1h-3zM119 641h1v1h-1zM123 641h3v1h-3zM129 641h3v1h-3zM706 641h2v1h-2zM796 641h2v1h-2zM927 641h3v1h-3zM933 641h3v1h-3zM939 641h2v1h-2zM795 642h1v1h-1zM941 642h1v1h-1zM1047 642h3v1h-3zM711 643h3v1h-3zM945 643h1v1h-1zM790 644h2v1h-2zM946 644h2v1h-2zM1042 644h2v1h-2zM717 645h3v1h-3zM789 645h1v1h-1zM1041 645h1v1h-1zM723 646h1v1h-1zM951 646h3v1h-3zM1037 646h1v1h-1zM724 647h2v1h-2zM783 647h3v1h-3zM1035 647h2v1h-2zM957 648h3v1h-3zM1031 648h1v1h-1zM729 649h1v1h-1zM777 649h3v1h-3zM963 649h2v1h-2zM1029 649h2v1h-2zM730 650h2v1h-2zM773 650h1v1h-1zM965 650h1v1h-1zM1025 650h1v1h-1zM735 651h3v1h-3zM767 651h1v1h-1zM771 651h2v1h-2zM969 651h1v1h-1zM1023 651h2v1h-2zM741 652h3v1h-3zM759 652h3v1h-3zM765 652h2v1h-2zM970 652h2v1h-2zM1018 652h2v1h-2zM747 653h3v1h-3zM753 653h3v1h-3zM975 653h3v1h-3zM1017 653h1v1h-1zM981 654h3v1h-3zM1013 654h1v1h-1zM987 655h3v1h-3zM993 655h3v1h-3zM999 655h3v1h-3zM1005 655h3v1h-3zM1011 655h2v1h-2z" fill="#FF0000"/>
<line x1="3" x2="1418" y1="710.5" y2="710.5" stroke="#C0C0C0" stroke-width="1" stroke-dasharray="3,3"/>
<line x1="3" x2="1418" y1="761.5" y2="761.5" stroke="#C0C0C0" stroke-width="1" stroke-dasharray="3,3"/>
<path d="M355 711h1v1h-1zM354 712h1v1h-1zM356 712h2v1h-2zM353 713h1v1h-1zM358 713h1v1h-1zM465 713h3v1h-3zM352 714h1v1h-1zM359 714h2v1h-2zM461 714h4v1h-4zM468 714h1v1h-1zM351 715h1v2h-1zM361 715h2v1h-2zM377 715h3v1h-3zM457 715h4v1h-4zM469 715h1v1h-1zM363 716h4v1h-4zM373 716h4v1h-4zM380 716h1v1h-1zM453 716h4v1h-4zM470 716h1v1h-1zM350 717h1v1h-1zM367 717h6v1h-6zM381 717h1v1h-1zM451 717h2v1h-2zM471 717h2v1h-2zM349 718h1v1h-1zM382 718h1v1h-1zM450 718h1v1h-1zM473 718h1v1h-1zM495 718h5v1h-5zM348 719h1v1h-1zM383 719h1v2h-1zM449 719h1v1h-1zM474 719h1v1h-1zM479 719h16v1h-16zM500 719h2v1h-2zM347 720h1v1h-1zM447 720h2v1h-2zM475 720h4v1h-4zM502 720h1v1h-1zM346 721h1v1h-1zM384 721h1v1h-1zM446 721h1v1h-1zM503 721h2v1h-2zM323 722h9v1h-9zM345 722h1v1h-1zM385 722h1v1h-1zM445 722h1v1h-1zM505 722h2v1h-2zM323 723h1v1h-1zM332 723h1v1h-1zM344 723h1v1h-1zM386 723h1v1h-1zM444 723h1v1h-1zM507 723h1v1h-1zM322 724h1v2h-1zM333 724h2v1h-2zM343 724h1v1h-1zM387 724h2v1h-2zM443 724h1v1h-1zM508 724h1v2h-1zM335 725h1v1h-1zM342 725h1v1h-1zM389 725h2v1h-2zM442 725h1v2h-1zM321 726h1v2h-1zM336 726h1v1h-1zM341 726h1v1h-1zM391 726h3v1h-3zM509 726h1v2h-1zM755 726h1v2h-1zM337 727h2v1h-2zM340 727h1v1h-1zM394 727h2v1h-2zM441 727h1v1h-1zM756 727h1v1h-1zM320 728h1v2h-1zM339 728h1v1h-1zM396 728h1v2h-1zM440 728h1v1h-1zM510 728h1v2h-1zM754 728h1v3h-1zM757 728h2v1h-2zM439 729h1v2h-1zM759 729h1v1h-1zM319 730h1v2h-1zM397 730h1v2h-1zM511 730h1v2h-1zM760 730h1v1h-1zM9 731h3v1h-3zM167 731h8v1h-8zM438 731h1v1h-1zM753 731h1v4h-1zM761 731h2v1h-2zM799 731h5v1h-5zM5 732h4v1h-4zM12 732h1v2h-1zM162 732h5v1h-5zM175 732h5v1h-5zM259 732h4v1h-4zM318 732h1v2h-1zM398 732h1v2h-1zM437 732h1v1h-1zM512 732h1v2h-1zM763 732h9v1h-9zM786 732h13v1h-13zM804 732h1v1h-1zM1034 732h2v1h-2zM3 733h2v1h-2zM160 733h2v1h-2zM180 733h1v1h-1zM258 733h1v1h-1zM263 733h5v1h-5zM436 733h1v2h-1zM772 733h2v1h-2zM784 733h2v1h-2zM805 733h1v1h-1zM1031 733h3v1h-3zM1036 733h1v2h-1zM13 734h1v2h-1zM158 734h2v1h-2zM181 734h1v1h-1zM257 734h1v1h-1zM268 734h2v1h-2zM317 734h1v2h-1zM399 734h1v1h-1zM513 734h1v2h-1zM774 734h2v1h-2zM782 734h2v1h-2zM806 734h1v1h-1zM1029 734h2v1h-2zM1051 734h1v1h-1zM156 735h2v1h-2zM182 735h1v1h-1zM255 735h2v1h-2zM270 735h2v1h-2zM400 735h1v2h-1zM435 735h1v1h-1zM752 735h1v3h-1zM776 735h2v1h-2zM780 735h2v1h-2zM807 735h1v1h-1zM1026 735h3v1h-3zM1037 735h1v2h-1zM1050 735h1v2h-1zM1052 735h1v1h-1zM14 736h1v2h-1zM155 736h1v1h-1zM183 736h2v1h-2zM254 736h1v1h-1zM272 736h2v1h-2zM316 736h1v2h-1zM434 736h1v1h-1zM514 736h1v2h-1zM599 736h6v1h-6zM778 736h2v1h-2zM808 736h1v1h-1zM1024 736h2v1h-2zM1053 736h1v1h-1zM153 737h2v1h-2zM185 737h1v1h-1zM253 737h1v1h-1zM274 737h2v1h-2zM401 737h1v2h-1zM433 737h1v1h-1zM521 737h12v1h-12zM594 737h5v1h-5zM605 737h4v1h-4zM635 737h1v1h-1zM809 737h1v1h-1zM883 737h9v1h-9zM1022 737h2v1h-2zM1038 737h1v2h-1zM1049 737h1v2h-1zM1054 737h1v1h-1zM15 738h1v1h-1zM151 738h2v1h-2zM186 738h1v1h-1zM252 738h1v1h-1zM276 738h1v1h-1zM315 738h1v2h-1zM432 738h1v1h-1zM515 738h1v2h-1zM517 738h4v1h-4zM533 738h4v1h-4zM592 738h2v1h-2zM609 738h3v1h-3zM634 738h1v1h-1zM636 738h1v1h-1zM751 738h1v3h-1zM810 738h1v1h-1zM882 738h1v2h-1zM892 738h1v1h-1zM1020 738h2v1h-2zM1055 738h2v1h-2zM16 739h1v2h-1zM34 739h2v1h-2zM91 739h2v1h-2zM130 739h3v1h-3zM150 739h1v1h-1zM187 739h9v1h-9zM251 739h1v1h-1zM277 739h2v1h-2zM307 739h8v1h-8zM402 739h1v2h-1zM415 739h5v1h-5zM431 739h1v1h-1zM516 739h1v1h-1zM537 739h3v1h-3zM579 739h2v1h-2zM590 739h2v1h-2zM612 739h1v1h-1zM633 739h1v1h-1zM637 739h1v1h-1zM811 739h1v1h-1zM893 739h1v1h-1zM1019 739h1v1h-1zM1039 739h1v2h-1zM1048 739h1v2h-1zM1057 739h1v1h-1zM1065 739h3v1h-3zM31 740h3v1h-3zM36 740h1v1h-1zM89 740h2v1h-2zM93 740h4v1h-4zM128 740h2v1h-2zM133 740h2v1h-2zM148 740h2v1h-2zM196 740h1v1h-1zM250 740h1v1h-1zM279 740h1v1h-1zM306 740h1v2h-1zM407 740h8v1h-8zM420 740h2v1h-2zM430 740h1v1h-1zM540 740h1v1h-1zM578 740h1v2h-1zM581 740h4v1h-4zM588 740h2v1h-2zM613 740h1v2h-1zM631 740h2v1h-2zM638 740h1v1h-1zM812 740h2v1h-2zM881 740h1v2h-1zM894 740h1v1h-1zM1018 740h1v1h-1zM1058 740h1v1h-1zM1061 740h4v1h-4zM1068 740h2v1h-2zM17 741h1v2h-1zM29 741h2v1h-2zM37 741h2v1h-2zM88 741h1v1h-1zM97 741h3v1h-3zM126 741h2v1h-2zM135 741h3v1h-3zM143 741h5v1h-5zM197 741h1v1h-1zM249 741h1v2h-1zM280 741h1v1h-1zM403 741h4v1h-4zM422 741h2v1h-2zM429 741h1v1h-1zM541 741h1v2h-1zM585 741h3v1h-3zM630 741h1v1h-1zM639 741h2v1h-2zM750 741h1v3h-1zM814 741h1v1h-1zM895 741h1v1h-1zM1017 741h1v1h-1zM1040 741h1v2h-1zM1047 741h1v1h-1zM1059 741h2v1h-2zM1070 741h2v1h-2zM26 742h3v1h-3zM39 742h1v1h-1zM87 742h1v1h-1zM100 742h2v1h-2zM114 742h5v1h-5zM124 742h2v1h-2zM138 742h5v1h-5zM198 742h1v1h-1zM281 742h2v1h-2zM305 742h1v2h-1zM424 742h2v1h-2zM428 742h1v1h-1zM577 742h1v2h-1zM614 742h1v1h-1zM629 742h1v1h-1zM641 742h1v1h-1zM815 742h2v1h-2zM880 742h1v2h-1zM896 742h1v1h-1zM995 742h9v1h-9zM1016 742h1v1h-1zM1046 742h1v2h-1zM1072 742h2v1h-2zM1079 742h5v1h-5zM1098 742h2v1h-2zM18 743h1v2h-1zM23 743h3v1h-3zM40 743h1v1h-1zM85 743h2v1h-2zM102 743h1v1h-1zM112 743h2v1h-2zM119 743h5v1h-5zM199 743h2v1h-2zM248 743h1v1h-1zM283 743h1v1h-1zM426 743h2v1h-2zM542 743h1v1h-1zM615 743h1v1h-1zM628 743h1v1h-1zM642 743h1v1h-1zM817 743h2v1h-2zM897 743h1v1h-1zM993 743h2v1h-2zM1004 743h1v1h-1zM1015 743h1v2h-1zM1041 743h1v2h-1zM1074 743h5v1h-5zM1084 743h2v1h-2zM1096 743h2v1h-2zM1100 743h1v1h-1zM21 744h2v1h-2zM41 744h2v1h-2zM84 744h1v1h-1zM103 744h2v1h-2zM110 744h2v1h-2zM201 744h1v1h-1zM247 744h1v1h-1zM284 744h1v1h-1zM304 744h1v2h-1zM543 744h1v1h-1zM576 744h1v1h-1zM616 744h1v1h-1zM626 744h2v1h-2zM643 744h9v1h-9zM749 744h1v4h-1zM819 744h1v1h-1zM879 744h1v1h-1zM898 744h1v1h-1zM992 744h1v1h-1zM1005 744h2v1h-2zM1045 744h1v2h-1zM1086 744h2v1h-2zM1094 744h2v1h-2zM1101 744h1v1h-1zM19 745h2v1h-2zM43 745h1v1h-1zM83 745h1v1h-1zM105 745h2v1h-2zM108 745h2v1h-2zM202 745h1v1h-1zM246 745h1v1h-1zM285 745h1v1h-1zM544 745h1v1h-1zM575 745h1v2h-1zM617 745h1v2h-1zM624 745h2v1h-2zM652 745h2v1h-2zM820 745h2v1h-2zM878 745h1v2h-1zM899 745h2v1h-2zM963 745h4v1h-4zM991 745h1v1h-1zM1007 745h1v1h-1zM1014 745h1v1h-1zM1042 745h1v2h-1zM1088 745h2v1h-2zM1092 745h2v1h-2zM1102 745h1v1h-1zM44 746h1v2h-1zM82 746h1v1h-1zM107 746h1v1h-1zM203 746h2v1h-2zM245 746h1v2h-1zM286 746h1v1h-1zM303 746h1v1h-1zM545 746h1v2h-1zM622 746h2v1h-2zM654 746h2v1h-2zM822 746h1v1h-1zM901 746h4v1h-4zM963 746h1v1h-1zM967 746h14v1h-14zM989 746h2v1h-2zM1008 746h1v1h-1zM1013 746h1v1h-1zM1044 746h1v2h-1zM1090 746h2v1h-2zM1103 746h1v1h-1zM81 747h1v1h-1zM205 747h2v1h-2zM287 747h1v1h-1zM302 747h1v2h-1zM574 747h1v1h-1zM618 747h1v1h-1zM620 747h2v1h-2zM656 747h2v1h-2zM823 747h2v1h-2zM877 747h1v2h-1zM905 747h6v1h-6zM962 747h1v2h-1zM981 747h4v1h-4zM988 747h1v1h-1zM1009 747h2v1h-2zM1012 747h1v1h-1zM1043 747h1v2h-1zM1104 747h1v1h-1zM45 748h1v1h-1zM80 748h1v1h-1zM207 748h3v1h-3zM215 748h24v1h-24zM244 748h1v1h-1zM288 748h1v1h-1zM546 748h1v1h-1zM551 748h6v1h-6zM573 748h1v2h-1zM619 748h1v1h-1zM658 748h2v1h-2zM748 748h1v3h-1zM825 748h2v1h-2zM911 748h5v1h-5zM985 748h3v1h-3zM1011 748h1v1h-1zM1105 748h1v1h-1zM46 749h1v1h-1zM79 749h1v2h-1zM210 749h5v1h-5zM239 749h5v1h-5zM289 749h1v1h-1zM301 749h1v2h-1zM547 749h4v1h-4zM557 749h4v1h-4zM660 749h1v1h-1zM714 749h2v1h-2zM827 749h2v1h-2zM858 749h5v1h-5zM876 749h1v2h-1zM916 749h2v1h-2zM961 749h1v2h-1zM1106 749h1v1h-1zM47 750h1v2h-1zM290 750h1v1h-1zM561 750h4v1h-4zM572 750h1v2h-1zM661 750h1v1h-1zM712 750h2v1h-2zM716 750h1v2h-1zM829 750h4v1h-4zM856 750h2v1h-2zM863 750h8v1h-8zM918 750h1v1h-1zM1107 750h9v1h-9zM78 751h1v1h-1zM291 751h2v1h-2zM300 751h1v2h-1zM565 751h4v1h-4zM662 751h1v1h-1zM710 751h2v1h-2zM747 751h1v2h-1zM833 751h12v1h-12zM854 751h2v1h-2zM871 751h5v1h-5zM919 751h2v1h-2zM960 751h1v2h-1zM48 752h1v1h-1zM77 752h1v1h-1zM293 752h4v1h-4zM569 752h3v1h-3zM663 752h2v1h-2zM708 752h2v1h-2zM717 752h1v2h-1zM739 752h8v1h-8zM845 752h4v1h-4zM852 752h2v1h-2zM921 752h2v1h-2zM49 753h1v1h-1zM76 753h1v1h-1zM297 753h3v1h-3zM665 753h1v1h-1zM706 753h2v1h-2zM738 753h1v1h-1zM849 753h3v1h-3zM923 753h1v1h-1zM959 753h1v2h-1zM50 754h1v2h-1zM66 754h10v1h-10zM666 754h1v1h-1zM704 754h2v1h-2zM718 754h1v2h-1zM737 754h1v1h-1zM924 754h1v1h-1zM64 755h2v1h-2zM667 755h2v1h-2zM681 755h3v1h-3zM702 755h2v1h-2zM735 755h2v1h-2zM925 755h1v2h-1zM958 755h1v2h-1zM51 756h2v1h-2zM62 756h2v1h-2zM669 756h4v1h-4zM677 756h4v1h-4zM684 756h2v1h-2zM700 756h2v1h-2zM719 756h1v1h-1zM734 756h1v1h-1zM53 757h4v1h-4zM60 757h2v1h-2zM673 757h4v1h-4zM686 757h2v1h-2zM697 757h3v1h-3zM720 757h1v2h-1zM733 757h1v1h-1zM926 757h1v1h-1zM957 757h1v2h-1zM57 758h3v1h-3zM688 758h2v1h-2zM693 758h4v1h-4zM732 758h1v1h-1zM927 758h1v1h-1zM690 759h3v1h-3zM721 759h1v2h-1zM730 759h2v1h-2zM928 759h1v1h-1zM956 759h1v2h-1zM728 760h2v1h-2zM929 760h1v2h-1zM938 760h3v1h-3zM722 761h1v2h-1zM726 761h2v1h-2zM935 761h3v1h-3zM941 761h2v1h-2zM953 761h3v1h-3zM724 762h2v1h-2zM930 762h1v1h-1zM933 762h2v1h-2zM943 762h3v1h-3zM949 762h4v1h-4zM723 763h1v1h-1zM931 763h2v1h-2zM946 763h3v1h-3z" fill="#1E90FF"/>
<rect x="1419" y="32" width="2" height="1" fill="#000"/>
<text x="1424.5" y="35.8" font-size="9" fill="#000" textLength="32.6" lengthAdjust="spacingAndGlyphs" stroke="#000" stroke-width="0.15">1.14295</text>
<rect x="1419" y="65" width="2" height="1" fill="#000"/>
<text x="1424.5" y="68.8" font-size="9" fill="#000" textLength="32.6" lengthAdjust="spacingAndGlyphs" stroke="#000" stroke-width="0.15">1.13975</text>
<rect x="1419" y="98" width="2" height="1" fill="#000"/>
<text x="1424.5" y="101.8" font-size="9" fill="#000" textLength="32.6" lengthAdjust="spacingAndGlyphs" stroke="#000" stroke-width="0.15">1.13650</text>
<rect x="1419" y="131" width="2" height="1" fill="#000"/>
<text x="1424.5" y="134.8" font-size="9" fill="#000" textLength="32.6" lengthAdjust="spacingAndGlyphs" stroke="#000" stroke-width="0.15">1.13330</text>
<rect x="1419" y="164" width="2" height="1" fill="#000"/>
<text x="1424.5" y="167.8" font-size="9" fill="#000" textLength="32.6" lengthAdjust="spacingAndGlyphs" stroke="#000" stroke-width="0.15">1.13010</text>
<rect x="1419" y="197" width="2" height="1" fill="#000"/>
<text x="1424.5" y="200.8" font-size="9" fill="#000" textLength="32.6" lengthAdjust="spacingAndGlyphs" stroke="#000" stroke-width="0.15">1.12685</text>
<rect x="1419" y="230" width="2" height="1" fill="#000"/>
<text x="1424.5" y="233.8" font-size="9" fill="#000" textLength="32.6" lengthAdjust="spacingAndGlyphs" stroke="#000" stroke-width="0.15">1.12365</text>
<rect x="1419" y="263" width="2" height="1" fill="#000"/>
<text x="1424.5" y="266.8" font-size="9" fill="#000" textLength="32.6" lengthAdjust="spacingAndGlyphs" stroke="#000" stroke-width="0.15">1.12045</text>
<rect x="1419" y="296" width="2" height="1" fill="#000"/>
<text x="1424.5" y="299.8" font-size="9" fill="#000" textLength="32.6" lengthAdjust="spacingAndGlyphs" stroke="#000" stroke-width="0.15">1.11725</text>
<rect x="1419" y="329" width="2" height="1" fill="#000"/>
<text x="1424.5" y="332.8" font-size="9" fill="#000" textLength="32.6" lengthAdjust="spacingAndGlyphs" stroke="#000" stroke-width="0.15">1.11400</text>
<rect x="1419" y="362" width="2" height="1" fill="#000"/>
<text x="1424.5" y="365.8" font-size="9" fill="#000" textLength="32.6" lengthAdjust="spacingAndGlyphs" stroke="#000" stroke-width="0.15">1.11080</text>
<rect x="1419" y="395" width="2" height="1" fill="#000"/>
<text x="1424.5" y="398.8" font-size="9" fill="#000" textLength="32.6" lengthAdjust="spacingAndGlyphs" stroke="#000" stroke-width="0.15">1.10760</text>
<rect x="1419" y="428" width="2" height="1" fill="#000"/>
<text x="1424.5" y="431.8" font-size="9" fill="#000" textLength="32.6" lengthAdjust="spacingAndGlyphs" stroke="#000" stroke-width="0.15">1.10440</text>
<rect x="1419" y="461" width="2" height="1" fill="#000"/>
<text x="1424.5" y="464.8" font-size="9" fill="#000" textLength="32.6" lengthAdjust="spacingAndGlyphs" stroke="#000" stroke-width="0.15">1.10115</text>
<rect x="1419" y="494" width="2" height="1" fill="#000"/>
<text x="1424.5" y="497.8" font-size="9" fill="#000" textLength="32.6" lengthAdjust="spacingAndGlyphs" stroke="#000" stroke-width="0.15">1.09795</text>
<rect x="1419" y="527" width="2" height="1" fill="#000"/>
<text x="1424.5" y="530.8" font-size="9" fill="#000" textLength="32.6" lengthAdjust="spacingAndGlyphs" stroke="#000" stroke-width="0.15">1.09475</text>
<rect x="1419" y="560" width="2" height="1" fill="#000"/>
<text x="1424.5" y="563.8" font-size="9" fill="#000" textLength="32.6" lengthAdjust="spacingAndGlyphs" stroke="#000" stroke-width="0.15">1.09150</text>
<rect x="1420" y="56" width="39" height="11" fill="#FF0000"/>
<text x="1424.5" y="64.8" font-size="9" fill="#fff" textLength="32.6" lengthAdjust="spacingAndGlyphs" stroke="#fff" stroke-width="0.15">1.14009</text>
<rect x="1420" y="174" width="39" height="11" fill="#FF0000"/>
<text x="1424.5" y="182.8" font-size="9" fill="#fff" textLength="32.6" lengthAdjust="spacingAndGlyphs" stroke="#fff" stroke-width="0.15">1.12851</text>
<rect x="1420" y="272" width="39" height="11" fill="#FF0000"/>
<text x="1424.5" y="280.8" font-size="9" fill="#fff" textLength="32.6" lengthAdjust="spacingAndGlyphs" stroke="#fff" stroke-width="0.15">1.11901</text>
<rect x="1420" y="364" width="39" height="11" fill="#00FF00"/>
<text x="1424.5" y="372.8" font-size="9" fill="#fff" textLength="32.6" lengthAdjust="spacingAndGlyphs" stroke="#fff" stroke-width="0.15">1.11000</text>
<rect x="1420" y="447" width="39" height="11" fill="#0000FF"/>
<text x="1424.5" y="455.8" font-size="9" fill="#fff" textLength="32.6" lengthAdjust="spacingAndGlyphs" stroke="#fff" stroke-width="0.15">1.10201</text>
<rect x="1420" y="515" width="39" height="11" fill="#000"/>
<text x="1424.5" y="524.2" font-size="9" fill="#fff" textLength="32.6" lengthAdjust="spacingAndGlyphs" stroke="#fff" stroke-width="0.15">1.09541</text>
<rect x="1419" y="567" width="2" height="1" fill="#000"/>
<rect x="1419" y="614" width="2" height="1" fill="#000"/>
<rect x="1419" y="667" width="2" height="1" fill="#000"/>
<text x="1422.3" y="575.7" font-size="9" fill="#000" textLength="38" lengthAdjust="spacingAndGlyphs" stroke="#000" stroke-width="0.15">0.004536</text>
<text x="1422.3" y="618" font-size="9" fill="#000" textLength="18" lengthAdjust="spacingAndGlyphs" stroke="#000" stroke-width="0.15">0.00</text>
<text x="1422.3" y="664.7" font-size="9" fill="#000" textLength="41" lengthAdjust="spacingAndGlyphs" stroke="#000" stroke-width="0.15">-0.005205</text>
<rect x="1419" y="672" width="2" height="1" fill="#000"/>
<rect x="1419" y="710" width="2" height="1" fill="#000"/>
<rect x="1419" y="761" width="2" height="1" fill="#000"/>
<rect x="1419" y="799" width="2" height="1" fill="#000"/>
<text x="1422.6" y="680.8" font-size="9" fill="#000" textLength="14.4" lengthAdjust="spacingAndGlyphs" stroke="#000" stroke-width="0.15">100</text>
<text x="1421.6" y="714.3" font-size="9" fill="#000" textLength="9.6" lengthAdjust="spacingAndGlyphs" stroke="#000" stroke-width="0.15">70</text>
<text x="1421.6" y="765.3" font-size="9" fill="#000" textLength="9.6" lengthAdjust="spacingAndGlyphs" stroke="#000" stroke-width="0.15">30</text>
<text x="1422.3" y="796.8" font-size="9" fill="#000" textLength="4.8" lengthAdjust="spacingAndGlyphs" stroke="#000" stroke-width="0.15">0</text>
<rect x="3" y="801" width="1" height="3" fill="#000"/>
<text x="2.4" y="813" font-size="9.5" fill="#000" textLength="50.5" lengthAdjust="spacingAndGlyphs" stroke="#000" stroke-width="0.15">16 Apr 2019</text>
<rect x="67" y="801" width="1" height="3" fill="#000"/>
<text x="66.4" y="813" font-size="9.5" fill="#000" textLength="51" lengthAdjust="spacingAndGlyphs" stroke="#000" stroke-width="0.15">26 Apr 2019</text>
<rect x="131" y="801" width="1" height="3" fill="#000"/>
<text x="130.4" y="813" font-size="9.5" fill="#000" textLength="50" lengthAdjust="spacingAndGlyphs" stroke="#000" stroke-width="0.15">6 May 2019</text>
<rect x="195" y="801" width="1" height="3" fill="#000"/>
<text x="194.4" y="813" font-size="9.5" fill="#000" textLength="54.3" lengthAdjust="spacingAndGlyphs" stroke="#000" stroke-width="0.15">15 May 2019</text>
<rect x="259" y="801" width="1" height="3" fill="#000"/>
<text x="258.4" y="813" font-size="9.5" fill="#000" textLength="54.5" lengthAdjust="spacingAndGlyphs" stroke="#000" stroke-width="0.15">24 May 2019</text>
<rect x="323" y="801" width="1" height="3" fill="#000"/>
<text x="322.4" y="813" font-size="9.5" fill="#000" textLength="44.2" lengthAdjust="spacingAndGlyphs" stroke="#000" stroke-width="0.15">3 Jun 2019</text>
<rect x="387" y="801" width="1" height="3" fill="#000"/>
<text x="386.4" y="813" font-size="9.5" fill="#000" textLength="49.3" lengthAdjust="spacingAndGlyphs" stroke="#000" stroke-width="0.15">12 Jun 2019</text>
<rect x="451" y="801" width="1" height="3" fill="#000"/>
<text x="450.4" y="813" font-size="9.5" fill="#000" textLength="49.3" lengthAdjust="spacingAndGlyphs" stroke="#000" stroke-width="0.15">21 Jun 2019</text>
<rect x="515" y="801" width="1" height="3" fill="#000"/>
<text x="514.4" y="813" font-size="9.5" fill="#000" textLength="40.7" lengthAdjust="spacingAndGlyphs" stroke="#000" stroke-width="0.15">1 Jul 2019</text>
<rect x="579" y="801" width="1" height="3" fill="#000"/>
<text x="578.4" y="813" font-size="9.5" fill="#000" textLength="46" lengthAdjust="spacingAndGlyphs" stroke="#000" stroke-width="0.15">10 Jul 2019</text>
<rect x="643" y="801" width="1" height="3" fill="#000"/>
<text x="642.4" y="813" font-size="9.5" fill="#000" textLength="46.2" lengthAdjust="spacingAndGlyphs" stroke="#000" stroke-width="0.15">19 Jul 2019</text>
<rect x="707" y="801" width="1" height="3" fill="#000"/>
<text x="706.4" y="813" font-size="9.5" fill="#000" textLength="46.3" lengthAdjust="spacingAndGlyphs" stroke="#000" stroke-width="0.15">29 Jul 2019</text>
<rect x="771" y="801" width="1" height="3" fill="#000"/>
<text x="770.4" y="813" font-size="9.5" fill="#000" textLength="47.1" lengthAdjust="spacingAndGlyphs" stroke="#000" stroke-width="0.15">7 Aug 2019</text>
<rect x="835" y="801" width="1" height="3" fill="#000"/>
<text x="834.4" y="813" font-size="9.5" fill="#000" textLength="52.2" lengthAdjust="spacingAndGlyphs" stroke="#000" stroke-width="0.15">16 Aug 2019</text>
<rect x="899" y="801" width="1" height="3" fill="#000"/>
<text x="898.4" y="813" font-size="9.5" fill="#000" textLength="51.9" lengthAdjust="spacingAndGlyphs" stroke="#000" stroke-width="0.15">26 Aug 2019</text>
<rect x="963" y="801" width="1" height="3" fill="#000"/>
<text x="962.4" y="813" font-size="9.5" fill="#000" textLength="46.3" lengthAdjust="spacingAndGlyphs" stroke="#000" stroke-width="0.15">4 Sep 2019</text>
<rect x="1027" y="801" width="1" height="3" fill="#000"/>
<text x="1026.4" y="813" font-size="9.5" fill="#000" textLength="51.6" lengthAdjust="spacingAndGlyphs" stroke="#000" stroke-width="0.15">13 Sep 2019</text>
<rect x="1091" y="801" width="1" height="3" fill="#000"/>
<text x="1090.4" y="813" font-size="9.5" fill="#000" textLength="51.6" lengthAdjust="spacingAndGlyphs" stroke="#000" stroke-width="0.15">23 Sep 2019</text>
<defs><pattern id="chk" width="2" height="2" patternUnits="userSpaceOnUse"><rect width="2" height="2" fill="#f0f0f0"/><rect width="1" height="1" fill="#fff"/><rect x="1" y="1" width="1" height="1" fill="#fff"/></pattern></defs>
<rect x="29" y="0" width="24" height="18" fill="url(#chk)"/>
<text x="5.6" y="11.9" font-size="9.4" fill="#404040" textLength="12.3" lengthAdjust="spacingAndGlyphs">H4</text>
<text x="35" y="11.9" font-size="9.4" fill="#404040" textLength="11.1" lengthAdjust="spacingAndGlyphs">D1</text>
<text x="62.1" y="11.9" font-size="9.4" fill="#404040" textLength="14" lengthAdjust="spacingAndGlyphs">W1</text>
<text x="88.8" y="11.9" font-size="9.4" fill="#404040" textLength="14.4" lengthAdjust="spacingAndGlyphs">MN</text>
<polygon points="6,35.5 13.5,35.5 9.75,31" fill="#000"/>
<text x="18.5" y="35.8" font-size="9" fill="#000" textLength="213.5" lengthAdjust="spacingAndGlyphs" stroke="#000" stroke-width="0.15">EURUSD-,Daily&#160;&#160;1.09504 1.09552 1.09488 1.09541</text>
<text x="7" y="578" font-size="9" fill="#000" textLength="154" lengthAdjust="spacingAndGlyphs" stroke="#000" stroke-width="0.15">MACD(12,26,9) -0.002635 -0.001836</text>
<text x="7" y="683" font-size="9" fill="#000" textLength="68" lengthAdjust="spacingAndGlyphs" stroke="#000" stroke-width="0.15">RSI(14) 38.9293</text>
<polygon points="1129,25 1138,25 1133.5,30" fill="#C0C0C0"/></svg>
<!--PANEL-->
<div id="tabtop0" class="abs"></div><div id="tabbar" class="abs"></div><div id="tabtop" class="abs"></div>
<div id="tabact" class="abs"></div>
<div id="tb0" class="abs"></div><div id="tb1" class="abs"></div><div id="tb2" class="abs"></div>
<svg width="1459" height="853" viewBox="0 0 1459 853" style="position:absolute;left:0;top:0" font-family='"Liberation Sans", sans-serif'><text x="15.6" y="838" font-size="12.5" fill="#000" textLength="84.4" lengthAdjust="spacingAndGlyphs">EURUSD-,Daily</text>
<text x="122" y="838" font-size="12.5" fill="#707070" textLength="87" lengthAdjust="spacingAndGlyphs">AUDUSD-,Daily</text>
<text x="232.5" y="838" font-size="12.5" fill="#707070" textLength="83.5" lengthAdjust="spacingAndGlyphs">USDCHF-,Daily</text>
<text x="339.5" y="838" font-size="12.5" fill="#707070" textLength="85.2" lengthAdjust="spacingAndGlyphs">USDCAD-,Daily</text>
<text x="448.5" y="838" font-size="12.5" fill="#707070" textLength="87.5" lengthAdjust="spacingAndGlyphs">USDCNH-,Daily</text>
<text x="559.5" y="838" font-size="12.5" fill="#707070" textLength="96.8" lengthAdjust="spacingAndGlyphs">EURCHF-,Weekly</text>
<text x="679.3" y="838" font-size="12.5" fill="#707070" textLength="85.5" lengthAdjust="spacingAndGlyphs">XAUUSD-,Daily</text>
<text x="787.4" y="838" font-size="12.5" fill="#707070" textLength="72.0" lengthAdjust="spacingAndGlyphs">GBPUSD-,H1</text>
<text x="883.8" y="838" font-size="12.5" fill="#707070" textLength="56.1" lengthAdjust="spacingAndGlyphs">UKOil-,H1</text>
<text x="962" y="838" font-size="12.5" fill="#707070" textLength="82.8" lengthAdjust="spacingAndGlyphs">USDX-,Weekly</text>
<text x="1067.5" y="838" font-size="12.5" fill="#707070" textLength="96.8" lengthAdjust="spacingAndGlyphs">EURCHF-,Weekly</text>
<rect x="221" y="827" width="1" height="13" fill="#606060"/>
<rect x="328" y="827" width="1" height="13" fill="#606060"/>
<rect x="437" y="827" width="1" height="13" fill="#606060"/>
<rect x="549" y="827" width="1" height="13" fill="#606060"/>
<rect x="669" y="827" width="1" height="13" fill="#606060"/>
<rect x="777" y="827" width="1" height="13" fill="#606060"/>
<rect x="872" y="827" width="1" height="13" fill="#606060"/>
<rect x="953" y="827" width="1" height="13" fill="#606060"/>
<rect x="1057" y="827" width="1" height="13" fill="#606060"/>
<rect x="1177" y="827" width="1" height="13" fill="#606060"/>
<rect x="10" y="848" width="1" height="5" fill="#e2e2e2"/>
<rect x="140" y="848" width="1" height="5" fill="#e2e2e2"/>
<rect x="242" y="848" width="1" height="5" fill="#e2e2e2"/>
<rect x="372" y="848" width="1" height="5" fill="#e2e2e2"/>
<rect x="516" y="848" width="1" height="5" fill="#e2e2e2"/>
<rect x="661" y="848" width="1" height="5" fill="#e2e2e2"/>
<rect x="807" y="848" width="1" height="5" fill="#e2e2e2"/>
<rect x="952" y="848" width="1" height="5" fill="#e2e2e2"/>
<rect x="1096" y="848" width="1" height="5" fill="#e2e2e2"/>
<polygon points="1437.5,829 1437.5,835.2 1433.7,832.1" fill="#909090"/>
<polygon points="1452.8,829 1452.8,835.2 1456.4,832.1" fill="#909090"/></svg>
</body></html>
